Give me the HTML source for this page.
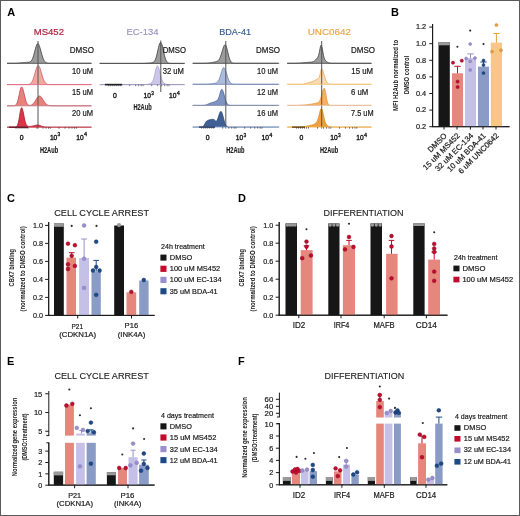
<!DOCTYPE html>
<html><head><meta charset="utf-8"><style>
html,body{margin:0;padding:0;background:#fff;overflow:hidden;width:520px;height:516px;}
svg{display:block;}
text{font-family:"Liberation Sans",sans-serif;}
svg{will-change:transform;}
</style></head><body>
<svg width="520" height="516" viewBox="0 0 520 516">
<rect width="520" height="516" fill="#fff"/>
<g class="g">
<rect x="0.5" y="0.5" width="519" height="515" fill="none" stroke="#5a5a5a" stroke-width="1"/>
<text x="7.20" y="15.90" font-size="11" fill="#000" font-weight="bold" textLength="7.94" lengthAdjust="spacingAndGlyphs" >A</text>
<text x="390.90" y="16.30" font-size="11" fill="#000" font-weight="bold" textLength="7.94" lengthAdjust="spacingAndGlyphs" >B</text>
<text x="7.00" y="201.80" font-size="11" fill="#000" font-weight="bold" textLength="7.94" lengthAdjust="spacingAndGlyphs" >C</text>
<text x="238.00" y="202.00" font-size="11" fill="#000" font-weight="bold" textLength="7.94" lengthAdjust="spacingAndGlyphs" >D</text>
<text x="7.00" y="365.40" font-size="11" fill="#000" font-weight="bold" textLength="7.34" lengthAdjust="spacingAndGlyphs" >E</text>
<text x="238.10" y="365.20" font-size="11" fill="#000" font-weight="bold" textLength="6.72" lengthAdjust="spacingAndGlyphs" >F</text>
<text x="33.70" y="35.20" font-size="9.6" fill="#b3223f" stroke="#b3223f" stroke-width="0.2" textLength="30.29" lengthAdjust="spacingAndGlyphs" >MS452</text>
<text x="126.40" y="35.20" font-size="9.6" fill="#9d97c4" stroke="#9d97c4" stroke-width="0.2" textLength="32.01" lengthAdjust="spacingAndGlyphs" >EC-134</text>
<text x="219.20" y="35.20" font-size="9.6" fill="#3a5f96" stroke="#3a5f96" stroke-width="0.2" textLength="31.81" lengthAdjust="spacingAndGlyphs" >BDA-41</text>
<text x="307.70" y="35.20" font-size="9.6" fill="#eba84c" stroke="#eba84c" stroke-width="0.2" textLength="43.31" lengthAdjust="spacingAndGlyphs" >UNC0642</text>
<path d="M7.0,63.30 L7.5,63.30 L8.0,63.30 L8.5,63.30 L9.0,63.30 L9.5,63.30 L10.0,63.30 L10.5,63.30 L11.0,63.29 L11.5,63.29 L12.0,63.29 L12.5,63.29 L13.0,63.28 L13.5,63.28 L14.0,63.27 L14.5,63.26 L15.0,63.25 L15.5,63.24 L16.0,63.22 L16.5,63.20 L17.0,63.18 L17.5,63.15 L18.0,63.12 L18.5,63.08 L19.0,63.05 L19.5,63.00 L20.0,62.96 L20.5,62.91 L21.1,62.86 L21.6,62.80 L22.1,62.75 L22.6,62.69 L23.1,62.64 L23.6,62.59 L24.1,62.54 L24.6,62.50 L25.1,62.46 L25.6,62.43 L26.1,62.41 L26.6,62.39 L27.1,62.37 L27.6,62.35 L28.1,62.32 L28.6,62.27 L29.1,62.19 L29.6,62.05 L30.1,61.84 L30.6,61.52 L31.1,61.05 L31.6,60.41 L32.1,59.56 L32.6,58.48 L33.1,57.15 L33.6,55.59 L34.1,53.82 L34.6,51.93 L35.1,49.98 L35.6,48.11 L36.1,46.42 L36.6,45.05 L37.1,44.10 L37.6,43.64 L38.1,43.72 L38.6,44.26 L39.1,45.24 L39.6,46.58 L40.1,48.19 L40.6,49.98 L41.1,51.85 L41.6,53.69 L42.1,55.43 L42.6,57.01 L43.1,58.40 L43.6,59.57 L44.1,60.53 L44.6,61.29 L45.1,61.88 L45.6,62.32 L46.1,62.64 L46.6,62.87 L47.1,63.02 L47.6,63.13 L48.1,63.19 L48.6,63.24 L49.1,63.26 L49.7,63.28 L50.2,63.29 L50.7,63.29 L51.2,63.30 L51.7,63.30 L52.2,63.30 L52.7,63.30 L53.2,63.30 L53.7,63.30 L54.2,63.30 L54.7,63.30 L55.2,63.30 L55.7,63.30 L56.2,63.30 L56.7,63.30 L57.2,63.30 L57.7,63.30 L58.2,63.30 L58.7,63.30 L59.2,63.30 L59.7,63.30 L60.2,63.30 L60.7,63.30 L61.2,63.30 L61.7,63.30 L62.2,63.30 L62.7,63.30 L63.2,63.30 L63.7,63.30 L64.2,63.30 L64.7,63.30 L65.2,63.30 L65.7,63.30 L66.2,63.30 L66.7,63.30 L67.2,63.30 L67.7,63.30 L68.2,63.30 L68.7,63.30 L69.2,63.30 L69.7,63.30 L70.2,63.30 L70.7,63.30 L71.2,63.30 L71.7,63.30 L72.2,63.30 L72.7,63.30 L73.2,63.30 L73.7,63.30 L74.2,63.30 L74.7,63.30 L75.2,63.30 L75.7,63.30 L76.2,63.30 L76.7,63.30 L77.2,63.30 L77.8,63.30 L78.3,63.30 L78.8,63.30 L79.3,63.30 L79.8,63.30 L80.3,63.30 L80.8,63.30 L81.3,63.30 L81.8,63.30 L82.3,63.30 L82.8,63.30 L83.3,63.30 L83.8,63.30 L84.3,63.30 L84.8,63.30 L85.3,63.30 L85.8,63.30 L86.3,63.30 L86.8,63.30 L87.3,63.30 L87.8,63.30 L88.3,63.30 L88.8,63.30 L89.3,63.30 L89.8,63.30 L90.3,63.30 L90.8,63.30 L91.3,63.30 L91.30,63.30 L7.00,63.30 Z" fill="#9c9c9c" stroke="none"/>
<path d="M7.0,63.30 L7.5,63.30 L8.0,63.30 L8.5,63.30 L9.0,63.30 L9.5,63.30 L10.0,63.30 L10.5,63.30 L11.0,63.29 L11.5,63.29 L12.0,63.29 L12.5,63.29 L13.0,63.28 L13.5,63.28 L14.0,63.27 L14.5,63.26 L15.0,63.25 L15.5,63.24 L16.0,63.22 L16.5,63.20 L17.0,63.18 L17.5,63.15 L18.0,63.12 L18.5,63.08 L19.0,63.05 L19.5,63.00 L20.0,62.96 L20.5,62.91 L21.1,62.86 L21.6,62.80 L22.1,62.75 L22.6,62.69 L23.1,62.64 L23.6,62.59 L24.1,62.54 L24.6,62.50 L25.1,62.46 L25.6,62.43 L26.1,62.41 L26.6,62.39 L27.1,62.37 L27.6,62.35 L28.1,62.32 L28.6,62.27 L29.1,62.19 L29.6,62.05 L30.1,61.84 L30.6,61.52 L31.1,61.05 L31.6,60.41 L32.1,59.56 L32.6,58.48 L33.1,57.15 L33.6,55.59 L34.1,53.82 L34.6,51.93 L35.1,49.98 L35.6,48.11 L36.1,46.42 L36.6,45.05 L37.1,44.10 L37.6,43.64 L38.1,43.72 L38.6,44.26 L39.1,45.24 L39.6,46.58 L40.1,48.19 L40.6,49.98 L41.1,51.85 L41.6,53.69 L42.1,55.43 L42.6,57.01 L43.1,58.40 L43.6,59.57 L44.1,60.53 L44.6,61.29 L45.1,61.88 L45.6,62.32 L46.1,62.64 L46.6,62.87 L47.1,63.02 L47.6,63.13 L48.1,63.19 L48.6,63.24 L49.1,63.26 L49.7,63.28 L50.2,63.29 L50.7,63.29 L51.2,63.30 L51.7,63.30 L52.2,63.30 L52.7,63.30 L53.2,63.30 L53.7,63.30 L54.2,63.30 L54.7,63.30 L55.2,63.30 L55.7,63.30 L56.2,63.30 L56.7,63.30 L57.2,63.30 L57.7,63.30 L58.2,63.30 L58.7,63.30 L59.2,63.30 L59.7,63.30 L60.2,63.30 L60.7,63.30 L61.2,63.30 L61.7,63.30 L62.2,63.30 L62.7,63.30 L63.2,63.30 L63.7,63.30 L64.2,63.30 L64.7,63.30 L65.2,63.30 L65.7,63.30 L66.2,63.30 L66.7,63.30 L67.2,63.30 L67.7,63.30 L68.2,63.30 L68.7,63.30 L69.2,63.30 L69.7,63.30 L70.2,63.30 L70.7,63.30 L71.2,63.30 L71.7,63.30 L72.2,63.30 L72.7,63.30 L73.2,63.30 L73.7,63.30 L74.2,63.30 L74.7,63.30 L75.2,63.30 L75.7,63.30 L76.2,63.30 L76.7,63.30 L77.2,63.30 L77.8,63.30 L78.3,63.30 L78.8,63.30 L79.3,63.30 L79.8,63.30 L80.3,63.30 L80.8,63.30 L81.3,63.30 L81.8,63.30 L82.3,63.30 L82.8,63.30 L83.3,63.30 L83.8,63.30 L84.3,63.30 L84.8,63.30 L85.3,63.30 L85.8,63.30 L86.3,63.30 L86.8,63.30 L87.3,63.30 L87.8,63.30 L88.3,63.30 L88.8,63.30 L89.3,63.30 L89.8,63.30 L90.3,63.30 L90.8,63.30 L91.3,63.30" fill="none" stroke="#3a3a3a" stroke-width="0.8" stroke-linejoin="round"/>
<path d="M7.0,84.60 L7.5,84.60 L8.0,84.60 L8.5,84.60 L9.0,84.60 L9.5,84.60 L10.0,84.60 L10.5,84.60 L11.0,84.60 L11.5,84.60 L12.0,84.60 L12.5,84.60 L13.0,84.60 L13.5,84.60 L14.0,84.60 L14.5,84.60 L15.0,84.60 L15.5,84.60 L16.0,84.60 L16.5,84.60 L17.0,84.60 L17.5,84.60 L18.0,84.60 L18.5,84.60 L19.0,84.60 L19.5,84.60 L20.0,84.60 L20.5,84.60 L21.1,84.60 L21.6,84.60 L22.1,84.60 L22.6,84.60 L23.1,84.60 L23.6,84.60 L24.1,84.60 L24.6,84.60 L25.1,84.60 L25.6,84.59 L26.1,84.59 L26.6,84.57 L27.1,84.56 L27.6,84.52 L28.1,84.47 L28.6,84.39 L29.1,84.27 L29.6,84.10 L30.1,83.84 L30.6,83.48 L31.1,83.00 L31.6,82.35 L32.1,81.53 L32.6,80.51 L33.1,79.28 L33.6,77.85 L34.1,76.25 L34.6,74.52 L35.1,72.72 L35.6,70.94 L36.1,69.27 L36.6,67.82 L37.1,66.68 L37.6,65.92 L38.1,65.61 L38.6,65.75 L39.1,66.32 L39.6,67.27 L40.1,68.55 L40.6,70.08 L41.1,71.76 L41.6,73.51 L42.1,75.23 L42.6,76.87 L43.1,78.37 L43.6,79.69 L44.1,80.82 L44.6,81.76 L45.1,82.51 L45.6,83.10 L46.1,83.55 L46.6,83.88 L47.1,84.12 L47.6,84.28 L48.1,84.40 L48.6,84.47 L49.1,84.52 L49.7,84.55 L50.2,84.57 L50.7,84.58 L51.2,84.59 L51.7,84.60 L52.2,84.60 L52.7,84.60 L53.2,84.60 L53.7,84.60 L54.2,84.60 L54.7,84.60 L55.2,84.60 L55.7,84.60 L56.2,84.60 L56.7,84.60 L57.2,84.60 L57.7,84.60 L58.2,84.60 L58.7,84.60 L59.2,84.60 L59.7,84.60 L60.2,84.60 L60.7,84.60 L61.2,84.60 L61.7,84.60 L62.2,84.60 L62.7,84.60 L63.2,84.60 L63.7,84.60 L64.2,84.60 L64.7,84.60 L65.2,84.60 L65.7,84.60 L66.2,84.60 L66.7,84.60 L67.2,84.60 L67.7,84.60 L68.2,84.60 L68.7,84.60 L69.2,84.60 L69.7,84.60 L70.2,84.60 L70.7,84.60 L71.2,84.60 L71.7,84.60 L72.2,84.60 L72.7,84.60 L73.2,84.60 L73.7,84.60 L74.2,84.60 L74.7,84.60 L75.2,84.60 L75.7,84.60 L76.2,84.60 L76.7,84.60 L77.2,84.60 L77.8,84.60 L78.3,84.60 L78.8,84.60 L79.3,84.60 L79.8,84.60 L80.3,84.60 L80.8,84.60 L81.3,84.60 L81.8,84.60 L82.3,84.60 L82.8,84.60 L83.3,84.60 L83.8,84.60 L84.3,84.60 L84.8,84.60 L85.3,84.60 L85.8,84.60 L86.3,84.60 L86.8,84.60 L87.3,84.60 L87.8,84.60 L88.3,84.60 L88.8,84.60 L89.3,84.60 L89.8,84.60 L90.3,84.60 L90.8,84.60 L91.3,84.60 L91.30,84.60 L7.00,84.60 Z" fill="#f2a79e" stroke="none"/>
<path d="M7.0,84.60 L7.5,84.60 L8.0,84.60 L8.5,84.60 L9.0,84.60 L9.5,84.60 L10.0,84.60 L10.5,84.60 L11.0,84.60 L11.5,84.60 L12.0,84.60 L12.5,84.60 L13.0,84.60 L13.5,84.60 L14.0,84.60 L14.5,84.60 L15.0,84.60 L15.5,84.60 L16.0,84.60 L16.5,84.60 L17.0,84.60 L17.5,84.60 L18.0,84.60 L18.5,84.60 L19.0,84.60 L19.5,84.60 L20.0,84.60 L20.5,84.60 L21.1,84.60 L21.6,84.60 L22.1,84.60 L22.6,84.60 L23.1,84.60 L23.6,84.60 L24.1,84.60 L24.6,84.60 L25.1,84.60 L25.6,84.59 L26.1,84.59 L26.6,84.57 L27.1,84.56 L27.6,84.52 L28.1,84.47 L28.6,84.39 L29.1,84.27 L29.6,84.10 L30.1,83.84 L30.6,83.48 L31.1,83.00 L31.6,82.35 L32.1,81.53 L32.6,80.51 L33.1,79.28 L33.6,77.85 L34.1,76.25 L34.6,74.52 L35.1,72.72 L35.6,70.94 L36.1,69.27 L36.6,67.82 L37.1,66.68 L37.6,65.92 L38.1,65.61 L38.6,65.75 L39.1,66.32 L39.6,67.27 L40.1,68.55 L40.6,70.08 L41.1,71.76 L41.6,73.51 L42.1,75.23 L42.6,76.87 L43.1,78.37 L43.6,79.69 L44.1,80.82 L44.6,81.76 L45.1,82.51 L45.6,83.10 L46.1,83.55 L46.6,83.88 L47.1,84.12 L47.6,84.28 L48.1,84.40 L48.6,84.47 L49.1,84.52 L49.7,84.55 L50.2,84.57 L50.7,84.58 L51.2,84.59 L51.7,84.60 L52.2,84.60 L52.7,84.60 L53.2,84.60 L53.7,84.60 L54.2,84.60 L54.7,84.60 L55.2,84.60 L55.7,84.60 L56.2,84.60 L56.7,84.60 L57.2,84.60 L57.7,84.60 L58.2,84.60 L58.7,84.60 L59.2,84.60 L59.7,84.60 L60.2,84.60 L60.7,84.60 L61.2,84.60 L61.7,84.60 L62.2,84.60 L62.7,84.60 L63.2,84.60 L63.7,84.60 L64.2,84.60 L64.7,84.60 L65.2,84.60 L65.7,84.60 L66.2,84.60 L66.7,84.60 L67.2,84.60 L67.7,84.60 L68.2,84.60 L68.7,84.60 L69.2,84.60 L69.7,84.60 L70.2,84.60 L70.7,84.60 L71.2,84.60 L71.7,84.60 L72.2,84.60 L72.7,84.60 L73.2,84.60 L73.7,84.60 L74.2,84.60 L74.7,84.60 L75.2,84.60 L75.7,84.60 L76.2,84.60 L76.7,84.60 L77.2,84.60 L77.8,84.60 L78.3,84.60 L78.8,84.60 L79.3,84.60 L79.8,84.60 L80.3,84.60 L80.8,84.60 L81.3,84.60 L81.8,84.60 L82.3,84.60 L82.8,84.60 L83.3,84.60 L83.8,84.60 L84.3,84.60 L84.8,84.60 L85.3,84.60 L85.8,84.60 L86.3,84.60 L86.8,84.60 L87.3,84.60 L87.8,84.60 L88.3,84.60 L88.8,84.60 L89.3,84.60 L89.8,84.60 L90.3,84.60 L90.8,84.60 L91.3,84.60" fill="none" stroke="#d35a68" stroke-width="0.8" stroke-linejoin="round"/>
<path d="M7.0,105.80 L7.5,105.80 L8.0,105.80 L8.5,105.80 L9.0,105.80 L9.5,105.80 L10.0,105.80 L10.5,105.80 L11.0,105.80 L11.5,105.80 L12.0,105.80 L12.5,105.79 L13.0,105.78 L13.5,105.76 L14.0,105.72 L14.5,105.63 L15.0,105.48 L15.5,105.22 L16.0,104.80 L16.5,104.14 L17.0,103.18 L17.5,101.85 L18.0,100.13 L18.5,98.04 L19.0,95.67 L19.5,93.19 L20.0,90.83 L20.5,88.87 L21.1,87.53 L21.6,87.00 L22.1,87.28 L22.6,88.23 L23.1,89.73 L23.6,91.65 L24.1,93.79 L24.6,95.98 L25.1,98.06 L25.6,99.92 L26.1,101.50 L26.6,102.76 L27.1,103.72 L27.6,104.42 L28.1,104.89 L28.6,105.19 L29.1,105.35 L29.6,105.41 L30.1,105.39 L30.6,105.30 L31.1,105.14 L31.6,104.91 L32.1,104.62 L32.6,104.24 L33.1,103.79 L33.6,103.25 L34.1,102.62 L34.6,101.92 L35.1,101.16 L35.6,100.35 L36.1,99.52 L36.6,98.71 L37.1,97.94 L37.6,97.26 L38.1,96.70 L38.6,96.29 L39.1,96.06 L39.6,96.01 L40.1,96.14 L40.6,96.46 L41.1,96.95 L41.6,97.56 L42.1,98.29 L42.6,99.08 L43.1,99.90 L43.6,100.73 L44.1,101.52 L44.6,102.26 L45.1,102.92 L45.6,103.51 L46.1,104.01 L46.6,104.43 L47.1,104.77 L47.6,105.04 L48.1,105.25 L48.6,105.41 L49.1,105.53 L49.7,105.62 L50.2,105.68 L50.7,105.72 L51.2,105.75 L51.7,105.77 L52.2,105.78 L52.7,105.79 L53.2,105.79 L53.7,105.80 L54.2,105.80 L54.7,105.80 L55.2,105.80 L55.7,105.80 L56.2,105.80 L56.7,105.80 L57.2,105.80 L57.7,105.80 L58.2,105.80 L58.7,105.80 L59.2,105.80 L59.7,105.80 L60.2,105.80 L60.7,105.80 L61.2,105.80 L61.7,105.80 L62.2,105.80 L62.7,105.80 L63.2,105.80 L63.7,105.80 L64.2,105.80 L64.7,105.80 L65.2,105.80 L65.7,105.80 L66.2,105.80 L66.7,105.80 L67.2,105.80 L67.7,105.80 L68.2,105.80 L68.7,105.80 L69.2,105.80 L69.7,105.80 L70.2,105.80 L70.7,105.80 L71.2,105.80 L71.7,105.80 L72.2,105.80 L72.7,105.80 L73.2,105.80 L73.7,105.80 L74.2,105.80 L74.7,105.80 L75.2,105.80 L75.7,105.80 L76.2,105.80 L76.7,105.80 L77.2,105.80 L77.8,105.80 L78.3,105.80 L78.8,105.80 L79.3,105.80 L79.8,105.80 L80.3,105.80 L80.8,105.80 L81.3,105.80 L81.8,105.80 L82.3,105.80 L82.8,105.80 L83.3,105.80 L83.8,105.80 L84.3,105.80 L84.8,105.80 L85.3,105.80 L85.8,105.80 L86.3,105.80 L86.8,105.80 L87.3,105.80 L87.8,105.80 L88.3,105.80 L88.8,105.80 L89.3,105.80 L89.8,105.80 L90.3,105.80 L90.8,105.80 L91.3,105.80 L91.30,105.80 L7.00,105.80 Z" fill="#e8827a" stroke="none"/>
<path d="M7.0,105.80 L7.5,105.80 L8.0,105.80 L8.5,105.80 L9.0,105.80 L9.5,105.80 L10.0,105.80 L10.5,105.80 L11.0,105.80 L11.5,105.80 L12.0,105.80 L12.5,105.79 L13.0,105.78 L13.5,105.76 L14.0,105.72 L14.5,105.63 L15.0,105.48 L15.5,105.22 L16.0,104.80 L16.5,104.14 L17.0,103.18 L17.5,101.85 L18.0,100.13 L18.5,98.04 L19.0,95.67 L19.5,93.19 L20.0,90.83 L20.5,88.87 L21.1,87.53 L21.6,87.00 L22.1,87.28 L22.6,88.23 L23.1,89.73 L23.6,91.65 L24.1,93.79 L24.6,95.98 L25.1,98.06 L25.6,99.92 L26.1,101.50 L26.6,102.76 L27.1,103.72 L27.6,104.42 L28.1,104.89 L28.6,105.19 L29.1,105.35 L29.6,105.41 L30.1,105.39 L30.6,105.30 L31.1,105.14 L31.6,104.91 L32.1,104.62 L32.6,104.24 L33.1,103.79 L33.6,103.25 L34.1,102.62 L34.6,101.92 L35.1,101.16 L35.6,100.35 L36.1,99.52 L36.6,98.71 L37.1,97.94 L37.6,97.26 L38.1,96.70 L38.6,96.29 L39.1,96.06 L39.6,96.01 L40.1,96.14 L40.6,96.46 L41.1,96.95 L41.6,97.56 L42.1,98.29 L42.6,99.08 L43.1,99.90 L43.6,100.73 L44.1,101.52 L44.6,102.26 L45.1,102.92 L45.6,103.51 L46.1,104.01 L46.6,104.43 L47.1,104.77 L47.6,105.04 L48.1,105.25 L48.6,105.41 L49.1,105.53 L49.7,105.62 L50.2,105.68 L50.7,105.72 L51.2,105.75 L51.7,105.77 L52.2,105.78 L52.7,105.79 L53.2,105.79 L53.7,105.80 L54.2,105.80 L54.7,105.80 L55.2,105.80 L55.7,105.80 L56.2,105.80 L56.7,105.80 L57.2,105.80 L57.7,105.80 L58.2,105.80 L58.7,105.80 L59.2,105.80 L59.7,105.80 L60.2,105.80 L60.7,105.80 L61.2,105.80 L61.7,105.80 L62.2,105.80 L62.7,105.80 L63.2,105.80 L63.7,105.80 L64.2,105.80 L64.7,105.80 L65.2,105.80 L65.7,105.80 L66.2,105.80 L66.7,105.80 L67.2,105.80 L67.7,105.80 L68.2,105.80 L68.7,105.80 L69.2,105.80 L69.7,105.80 L70.2,105.80 L70.7,105.80 L71.2,105.80 L71.7,105.80 L72.2,105.80 L72.7,105.80 L73.2,105.80 L73.7,105.80 L74.2,105.80 L74.7,105.80 L75.2,105.80 L75.7,105.80 L76.2,105.80 L76.7,105.80 L77.2,105.80 L77.8,105.80 L78.3,105.80 L78.8,105.80 L79.3,105.80 L79.8,105.80 L80.3,105.80 L80.8,105.80 L81.3,105.80 L81.8,105.80 L82.3,105.80 L82.8,105.80 L83.3,105.80 L83.8,105.80 L84.3,105.80 L84.8,105.80 L85.3,105.80 L85.8,105.80 L86.3,105.80 L86.8,105.80 L87.3,105.80 L87.8,105.80 L88.3,105.80 L88.8,105.80 L89.3,105.80 L89.8,105.80 L90.3,105.80 L90.8,105.80 L91.3,105.80" fill="none" stroke="#c2404f" stroke-width="0.8" stroke-linejoin="round"/>
<path d="M7.0,127.20 L7.5,127.20 L8.0,127.20 L8.5,127.20 L9.0,127.20 L9.5,127.20 L10.0,127.20 L10.5,127.20 L11.0,127.20 L11.5,127.20 L12.0,127.20 L12.5,127.20 L13.0,127.20 L13.5,127.20 L14.0,127.19 L14.5,127.18 L15.0,127.15 L15.5,127.08 L16.0,126.93 L16.5,126.64 L17.0,126.11 L17.5,125.22 L18.0,123.83 L18.5,121.86 L19.0,119.31 L19.5,116.33 L20.0,113.23 L20.5,110.46 L21.1,108.48 L21.6,107.68 L22.1,108.07 L22.6,109.39 L23.1,111.46 L23.6,113.97 L24.1,116.61 L24.6,119.12 L25.1,121.30 L25.6,123.04 L26.1,124.34 L26.6,125.23 L27.1,125.80 L27.6,126.14 L28.1,126.31 L28.6,126.39 L29.1,126.42 L29.6,126.41 L30.1,126.39 L30.6,126.36 L31.1,126.32 L31.6,126.26 L32.1,126.18 L32.6,126.08 L33.1,125.97 L33.6,125.83 L34.1,125.69 L34.6,125.53 L35.1,125.38 L35.6,125.25 L36.1,125.13 L36.6,125.05 L37.1,125.00 L37.6,124.99 L38.1,125.03 L38.6,125.10 L39.1,125.22 L39.6,125.37 L40.1,125.54 L40.6,125.72 L41.1,125.91 L41.6,126.10 L42.1,126.28 L42.6,126.45 L43.1,126.60 L43.6,126.73 L44.1,126.83 L44.6,126.92 L45.1,127.00 L45.6,127.05 L46.1,127.10 L46.6,127.13 L47.1,127.15 L47.6,127.17 L48.1,127.18 L48.6,127.19 L49.1,127.19 L49.7,127.19 L50.2,127.20 L50.7,127.20 L51.2,127.20 L51.7,127.20 L52.2,127.20 L52.7,127.20 L53.2,127.20 L53.7,127.20 L54.2,127.20 L54.7,127.20 L55.2,127.20 L55.7,127.20 L56.2,127.20 L56.7,127.20 L57.2,127.20 L57.7,127.20 L58.2,127.20 L58.7,127.20 L59.2,127.20 L59.7,127.20 L60.2,127.20 L60.7,127.20 L61.2,127.20 L61.7,127.20 L62.2,127.20 L62.7,127.20 L63.2,127.20 L63.7,127.20 L64.2,127.20 L64.7,127.20 L65.2,127.20 L65.7,127.20 L66.2,127.20 L66.7,127.20 L67.2,127.20 L67.7,127.20 L68.2,127.20 L68.7,127.20 L69.2,127.20 L69.7,127.20 L70.2,127.20 L70.7,127.20 L71.2,127.20 L71.7,127.20 L72.2,127.20 L72.7,127.20 L73.2,127.20 L73.7,127.20 L74.2,127.20 L74.7,127.20 L75.2,127.20 L75.7,127.20 L76.2,127.20 L76.7,127.20 L77.2,127.20 L77.8,127.20 L78.3,127.20 L78.8,127.20 L79.3,127.20 L79.8,127.20 L80.3,127.20 L80.8,127.20 L81.3,127.20 L81.8,127.20 L82.3,127.20 L82.8,127.20 L83.3,127.20 L83.8,127.20 L84.3,127.20 L84.8,127.20 L85.3,127.20 L85.8,127.20 L86.3,127.20 L86.8,127.20 L87.3,127.20 L87.8,127.20 L88.3,127.20 L88.8,127.20 L89.3,127.20 L89.8,127.20 L90.3,127.20 L90.8,127.20 L91.3,127.20 L91.30,127.20 L7.00,127.20 Z" fill="#d93747" stroke="none"/>
<path d="M7.0,127.20 L7.5,127.20 L8.0,127.20 L8.5,127.20 L9.0,127.20 L9.5,127.20 L10.0,127.20 L10.5,127.20 L11.0,127.20 L11.5,127.20 L12.0,127.20 L12.5,127.20 L13.0,127.20 L13.5,127.20 L14.0,127.19 L14.5,127.18 L15.0,127.15 L15.5,127.08 L16.0,126.93 L16.5,126.64 L17.0,126.11 L17.5,125.22 L18.0,123.83 L18.5,121.86 L19.0,119.31 L19.5,116.33 L20.0,113.23 L20.5,110.46 L21.1,108.48 L21.6,107.68 L22.1,108.07 L22.6,109.39 L23.1,111.46 L23.6,113.97 L24.1,116.61 L24.6,119.12 L25.1,121.30 L25.6,123.04 L26.1,124.34 L26.6,125.23 L27.1,125.80 L27.6,126.14 L28.1,126.31 L28.6,126.39 L29.1,126.42 L29.6,126.41 L30.1,126.39 L30.6,126.36 L31.1,126.32 L31.6,126.26 L32.1,126.18 L32.6,126.08 L33.1,125.97 L33.6,125.83 L34.1,125.69 L34.6,125.53 L35.1,125.38 L35.6,125.25 L36.1,125.13 L36.6,125.05 L37.1,125.00 L37.6,124.99 L38.1,125.03 L38.6,125.10 L39.1,125.22 L39.6,125.37 L40.1,125.54 L40.6,125.72 L41.1,125.91 L41.6,126.10 L42.1,126.28 L42.6,126.45 L43.1,126.60 L43.6,126.73 L44.1,126.83 L44.6,126.92 L45.1,127.00 L45.6,127.05 L46.1,127.10 L46.6,127.13 L47.1,127.15 L47.6,127.17 L48.1,127.18 L48.6,127.19 L49.1,127.19 L49.7,127.19 L50.2,127.20 L50.7,127.20 L51.2,127.20 L51.7,127.20 L52.2,127.20 L52.7,127.20 L53.2,127.20 L53.7,127.20 L54.2,127.20 L54.7,127.20 L55.2,127.20 L55.7,127.20 L56.2,127.20 L56.7,127.20 L57.2,127.20 L57.7,127.20 L58.2,127.20 L58.7,127.20 L59.2,127.20 L59.7,127.20 L60.2,127.20 L60.7,127.20 L61.2,127.20 L61.7,127.20 L62.2,127.20 L62.7,127.20 L63.2,127.20 L63.7,127.20 L64.2,127.20 L64.7,127.20 L65.2,127.20 L65.7,127.20 L66.2,127.20 L66.7,127.20 L67.2,127.20 L67.7,127.20 L68.2,127.20 L68.7,127.20 L69.2,127.20 L69.7,127.20 L70.2,127.20 L70.7,127.20 L71.2,127.20 L71.7,127.20 L72.2,127.20 L72.7,127.20 L73.2,127.20 L73.7,127.20 L74.2,127.20 L74.7,127.20 L75.2,127.20 L75.7,127.20 L76.2,127.20 L76.7,127.20 L77.2,127.20 L77.8,127.20 L78.3,127.20 L78.8,127.20 L79.3,127.20 L79.8,127.20 L80.3,127.20 L80.8,127.20 L81.3,127.20 L81.8,127.20 L82.3,127.20 L82.8,127.20 L83.3,127.20 L83.8,127.20 L84.3,127.20 L84.8,127.20 L85.3,127.20 L85.8,127.20 L86.3,127.20 L86.8,127.20 L87.3,127.20 L87.8,127.20 L88.3,127.20 L88.8,127.20 L89.3,127.20 L89.8,127.20 L90.3,127.20 L90.8,127.20 L91.3,127.20" fill="none" stroke="#a81a2c" stroke-width="0.8" stroke-linejoin="round"/>
<line x1="38.00" y1="41.00" x2="38.00" y2="128.50" stroke="#555" stroke-width="1" />
<text x="69.80" y="53.10" font-size="8.4" fill="#1a1a1a" stroke="#1a1a1a" stroke-width="0.2" textLength="24.20" lengthAdjust="spacingAndGlyphs" >DMSO</text>
<text x="72.00" y="73.60" font-size="8.4" fill="#1a1a1a" stroke="#1a1a1a" stroke-width="0.2" textLength="21.00" lengthAdjust="spacingAndGlyphs" >10 uM</text>
<text x="72.00" y="94.90" font-size="8.4" fill="#1a1a1a" stroke="#1a1a1a" stroke-width="0.2" textLength="21.00" lengthAdjust="spacingAndGlyphs" >15 uM</text>
<text x="72.00" y="116.20" font-size="8.4" fill="#1a1a1a" stroke="#1a1a1a" stroke-width="0.2" textLength="21.00" lengthAdjust="spacingAndGlyphs" >20 uM</text>
<path d="M99.7,63.40 L100.2,63.40 L100.7,63.40 L101.2,63.40 L101.7,63.40 L102.2,63.40 L102.7,63.40 L103.2,63.40 L103.7,63.40 L104.2,63.40 L104.7,63.40 L105.2,63.40 L105.7,63.40 L106.2,63.40 L106.7,63.40 L107.2,63.40 L107.7,63.40 L108.2,63.40 L108.7,63.40 L109.2,63.40 L109.7,63.40 L110.2,63.40 L110.8,63.40 L111.3,63.40 L111.8,63.40 L112.3,63.40 L112.8,63.40 L113.3,63.40 L113.8,63.40 L114.3,63.40 L114.8,63.40 L115.3,63.40 L115.8,63.40 L116.3,63.40 L116.8,63.40 L117.3,63.40 L117.8,63.40 L118.3,63.40 L118.8,63.40 L119.3,63.40 L119.8,63.40 L120.3,63.40 L120.8,63.40 L121.3,63.40 L121.8,63.40 L122.3,63.40 L122.8,63.40 L123.3,63.40 L123.8,63.40 L124.3,63.40 L124.8,63.40 L125.3,63.40 L125.8,63.40 L126.3,63.40 L126.8,63.40 L127.3,63.40 L127.8,63.40 L128.3,63.40 L128.8,63.40 L129.3,63.40 L129.8,63.40 L130.3,63.40 L130.8,63.40 L131.3,63.40 L131.9,63.40 L132.4,63.40 L132.9,63.40 L133.4,63.40 L133.9,63.40 L134.4,63.40 L134.9,63.40 L135.4,63.40 L135.9,63.40 L136.4,63.40 L136.9,63.40 L137.4,63.40 L137.9,63.40 L138.4,63.40 L138.9,63.40 L139.4,63.40 L139.9,63.39 L140.4,63.39 L140.9,63.39 L141.4,63.39 L141.9,63.38 L142.4,63.37 L142.9,63.36 L143.4,63.35 L143.9,63.34 L144.4,63.32 L144.9,63.30 L145.4,63.27 L145.9,63.24 L146.4,63.21 L146.9,63.18 L147.4,63.14 L147.9,63.10 L148.4,63.06 L148.9,63.02 L149.4,62.99 L149.9,62.95 L150.4,62.91 L150.9,62.86 L151.4,62.81 L151.9,62.72 L152.4,62.60 L153.0,62.41 L153.5,62.13 L154.0,61.70 L154.5,61.10 L155.0,60.27 L155.5,59.17 L156.0,57.78 L156.5,56.10 L157.0,54.15 L157.5,52.00 L158.0,49.77 L158.5,47.59 L159.0,45.61 L159.5,44.02 L160.0,42.93 L160.5,42.46 L161.0,42.66 L161.5,43.50 L162.0,44.91 L162.5,46.77 L163.0,48.91 L163.5,51.17 L164.0,53.41 L164.5,55.49 L165.0,57.34 L165.5,58.91 L166.0,60.17 L166.5,61.15 L167.0,61.89 L167.5,62.41 L168.0,62.78 L168.5,63.02 L169.0,63.17 L169.5,63.27 L170.0,63.33 L170.5,63.36 L171.0,63.38 L171.5,63.39 L172.0,63.40 L172.5,63.40 L173.0,63.40 L173.5,63.40 L174.1,63.40 L174.6,63.40 L175.1,63.40 L175.6,63.40 L176.1,63.40 L176.6,63.40 L177.1,63.40 L177.6,63.40 L178.1,63.40 L178.6,63.40 L179.1,63.40 L179.6,63.40 L180.1,63.40 L180.6,63.40 L181.1,63.40 L181.6,63.40 L182.1,63.40 L182.6,63.40 L183.1,63.40 L183.6,63.40 L184.1,63.40 L184.6,63.40 L184.60,63.40 L99.70,63.40 Z" fill="#9c9c9c" stroke="none"/>
<path d="M99.7,63.40 L100.2,63.40 L100.7,63.40 L101.2,63.40 L101.7,63.40 L102.2,63.40 L102.7,63.40 L103.2,63.40 L103.7,63.40 L104.2,63.40 L104.7,63.40 L105.2,63.40 L105.7,63.40 L106.2,63.40 L106.7,63.40 L107.2,63.40 L107.7,63.40 L108.2,63.40 L108.7,63.40 L109.2,63.40 L109.7,63.40 L110.2,63.40 L110.8,63.40 L111.3,63.40 L111.8,63.40 L112.3,63.40 L112.8,63.40 L113.3,63.40 L113.8,63.40 L114.3,63.40 L114.8,63.40 L115.3,63.40 L115.8,63.40 L116.3,63.40 L116.8,63.40 L117.3,63.40 L117.8,63.40 L118.3,63.40 L118.8,63.40 L119.3,63.40 L119.8,63.40 L120.3,63.40 L120.8,63.40 L121.3,63.40 L121.8,63.40 L122.3,63.40 L122.8,63.40 L123.3,63.40 L123.8,63.40 L124.3,63.40 L124.8,63.40 L125.3,63.40 L125.8,63.40 L126.3,63.40 L126.8,63.40 L127.3,63.40 L127.8,63.40 L128.3,63.40 L128.8,63.40 L129.3,63.40 L129.8,63.40 L130.3,63.40 L130.8,63.40 L131.3,63.40 L131.9,63.40 L132.4,63.40 L132.9,63.40 L133.4,63.40 L133.9,63.40 L134.4,63.40 L134.9,63.40 L135.4,63.40 L135.9,63.40 L136.4,63.40 L136.9,63.40 L137.4,63.40 L137.9,63.40 L138.4,63.40 L138.9,63.40 L139.4,63.40 L139.9,63.39 L140.4,63.39 L140.9,63.39 L141.4,63.39 L141.9,63.38 L142.4,63.37 L142.9,63.36 L143.4,63.35 L143.9,63.34 L144.4,63.32 L144.9,63.30 L145.4,63.27 L145.9,63.24 L146.4,63.21 L146.9,63.18 L147.4,63.14 L147.9,63.10 L148.4,63.06 L148.9,63.02 L149.4,62.99 L149.9,62.95 L150.4,62.91 L150.9,62.86 L151.4,62.81 L151.9,62.72 L152.4,62.60 L153.0,62.41 L153.5,62.13 L154.0,61.70 L154.5,61.10 L155.0,60.27 L155.5,59.17 L156.0,57.78 L156.5,56.10 L157.0,54.15 L157.5,52.00 L158.0,49.77 L158.5,47.59 L159.0,45.61 L159.5,44.02 L160.0,42.93 L160.5,42.46 L161.0,42.66 L161.5,43.50 L162.0,44.91 L162.5,46.77 L163.0,48.91 L163.5,51.17 L164.0,53.41 L164.5,55.49 L165.0,57.34 L165.5,58.91 L166.0,60.17 L166.5,61.15 L167.0,61.89 L167.5,62.41 L168.0,62.78 L168.5,63.02 L169.0,63.17 L169.5,63.27 L170.0,63.33 L170.5,63.36 L171.0,63.38 L171.5,63.39 L172.0,63.40 L172.5,63.40 L173.0,63.40 L173.5,63.40 L174.1,63.40 L174.6,63.40 L175.1,63.40 L175.6,63.40 L176.1,63.40 L176.6,63.40 L177.1,63.40 L177.6,63.40 L178.1,63.40 L178.6,63.40 L179.1,63.40 L179.6,63.40 L180.1,63.40 L180.6,63.40 L181.1,63.40 L181.6,63.40 L182.1,63.40 L182.6,63.40 L183.1,63.40 L183.6,63.40 L184.1,63.40 L184.6,63.40" fill="none" stroke="#3a3a3a" stroke-width="0.8" stroke-linejoin="round"/>
<path d="M99.7,84.60 L100.2,84.60 L100.7,84.60 L101.2,84.60 L101.7,84.60 L102.2,84.60 L102.7,84.60 L103.2,84.60 L103.7,84.60 L104.2,84.60 L104.7,84.60 L105.2,84.60 L105.7,84.60 L106.2,84.60 L106.7,84.60 L107.2,84.60 L107.7,84.60 L108.2,84.60 L108.7,84.60 L109.2,84.60 L109.7,84.60 L110.2,84.60 L110.8,84.60 L111.3,84.60 L111.8,84.60 L112.3,84.60 L112.8,84.60 L113.3,84.60 L113.8,84.60 L114.3,84.60 L114.8,84.60 L115.3,84.60 L115.8,84.60 L116.3,84.60 L116.8,84.60 L117.3,84.60 L117.8,84.60 L118.3,84.60 L118.8,84.60 L119.3,84.60 L119.8,84.60 L120.3,84.60 L120.8,84.60 L121.3,84.60 L121.8,84.60 L122.3,84.60 L122.8,84.60 L123.3,84.60 L123.8,84.60 L124.3,84.60 L124.8,84.60 L125.3,84.60 L125.8,84.60 L126.3,84.60 L126.8,84.60 L127.3,84.60 L127.8,84.60 L128.3,84.60 L128.8,84.60 L129.3,84.60 L129.8,84.60 L130.3,84.60 L130.8,84.60 L131.3,84.60 L131.9,84.60 L132.4,84.60 L132.9,84.60 L133.4,84.60 L133.9,84.60 L134.4,84.60 L134.9,84.60 L135.4,84.60 L135.9,84.60 L136.4,84.60 L136.9,84.60 L137.4,84.60 L137.9,84.60 L138.4,84.60 L138.9,84.60 L139.4,84.60 L139.9,84.60 L140.4,84.60 L140.9,84.60 L141.4,84.60 L141.9,84.60 L142.4,84.59 L142.9,84.59 L143.4,84.58 L143.9,84.58 L144.4,84.57 L144.9,84.55 L145.4,84.53 L145.9,84.50 L146.4,84.47 L146.9,84.42 L147.4,84.36 L147.9,84.28 L148.4,84.19 L148.9,84.07 L149.4,83.93 L149.9,83.75 L150.4,83.51 L150.9,83.21 L151.4,82.81 L151.9,82.26 L152.4,81.51 L153.0,80.50 L153.5,79.18 L154.0,77.52 L154.5,75.56 L155.0,73.37 L155.5,71.12 L156.0,69.03 L156.5,67.34 L157.0,66.29 L157.5,66.01 L158.0,66.45 L158.5,67.49 L159.0,69.02 L159.5,70.89 L160.0,72.92 L160.5,74.95 L161.0,76.85 L161.5,78.53 L162.0,79.95 L162.5,81.10 L163.0,81.99 L163.5,82.67 L164.0,83.17 L164.5,83.54 L165.0,83.81 L165.5,84.01 L166.0,84.16 L166.5,84.27 L167.0,84.36 L167.5,84.42 L168.0,84.47 L168.5,84.50 L169.0,84.53 L169.5,84.55 L170.0,84.57 L170.5,84.58 L171.0,84.58 L171.5,84.59 L172.0,84.59 L172.5,84.60 L173.0,84.60 L173.5,84.60 L174.1,84.60 L174.6,84.60 L175.1,84.60 L175.6,84.60 L176.1,84.60 L176.6,84.60 L177.1,84.60 L177.6,84.60 L178.1,84.60 L178.6,84.60 L179.1,84.60 L179.6,84.60 L180.1,84.60 L180.6,84.60 L181.1,84.60 L181.6,84.60 L182.1,84.60 L182.6,84.60 L183.1,84.60 L183.6,84.60 L184.1,84.60 L184.6,84.60 L184.60,84.60 L99.70,84.60 Z" fill="#ccc6ea" stroke="none"/>
<path d="M99.7,84.60 L100.2,84.60 L100.7,84.60 L101.2,84.60 L101.7,84.60 L102.2,84.60 L102.7,84.60 L103.2,84.60 L103.7,84.60 L104.2,84.60 L104.7,84.60 L105.2,84.60 L105.7,84.60 L106.2,84.60 L106.7,84.60 L107.2,84.60 L107.7,84.60 L108.2,84.60 L108.7,84.60 L109.2,84.60 L109.7,84.60 L110.2,84.60 L110.8,84.60 L111.3,84.60 L111.8,84.60 L112.3,84.60 L112.8,84.60 L113.3,84.60 L113.8,84.60 L114.3,84.60 L114.8,84.60 L115.3,84.60 L115.8,84.60 L116.3,84.60 L116.8,84.60 L117.3,84.60 L117.8,84.60 L118.3,84.60 L118.8,84.60 L119.3,84.60 L119.8,84.60 L120.3,84.60 L120.8,84.60 L121.3,84.60 L121.8,84.60 L122.3,84.60 L122.8,84.60 L123.3,84.60 L123.8,84.60 L124.3,84.60 L124.8,84.60 L125.3,84.60 L125.8,84.60 L126.3,84.60 L126.8,84.60 L127.3,84.60 L127.8,84.60 L128.3,84.60 L128.8,84.60 L129.3,84.60 L129.8,84.60 L130.3,84.60 L130.8,84.60 L131.3,84.60 L131.9,84.60 L132.4,84.60 L132.9,84.60 L133.4,84.60 L133.9,84.60 L134.4,84.60 L134.9,84.60 L135.4,84.60 L135.9,84.60 L136.4,84.60 L136.9,84.60 L137.4,84.60 L137.9,84.60 L138.4,84.60 L138.9,84.60 L139.4,84.60 L139.9,84.60 L140.4,84.60 L140.9,84.60 L141.4,84.60 L141.9,84.60 L142.4,84.59 L142.9,84.59 L143.4,84.58 L143.9,84.58 L144.4,84.57 L144.9,84.55 L145.4,84.53 L145.9,84.50 L146.4,84.47 L146.9,84.42 L147.4,84.36 L147.9,84.28 L148.4,84.19 L148.9,84.07 L149.4,83.93 L149.9,83.75 L150.4,83.51 L150.9,83.21 L151.4,82.81 L151.9,82.26 L152.4,81.51 L153.0,80.50 L153.5,79.18 L154.0,77.52 L154.5,75.56 L155.0,73.37 L155.5,71.12 L156.0,69.03 L156.5,67.34 L157.0,66.29 L157.5,66.01 L158.0,66.45 L158.5,67.49 L159.0,69.02 L159.5,70.89 L160.0,72.92 L160.5,74.95 L161.0,76.85 L161.5,78.53 L162.0,79.95 L162.5,81.10 L163.0,81.99 L163.5,82.67 L164.0,83.17 L164.5,83.54 L165.0,83.81 L165.5,84.01 L166.0,84.16 L166.5,84.27 L167.0,84.36 L167.5,84.42 L168.0,84.47 L168.5,84.50 L169.0,84.53 L169.5,84.55 L170.0,84.57 L170.5,84.58 L171.0,84.58 L171.5,84.59 L172.0,84.59 L172.5,84.60 L173.0,84.60 L173.5,84.60 L174.1,84.60 L174.6,84.60 L175.1,84.60 L175.6,84.60 L176.1,84.60 L176.6,84.60 L177.1,84.60 L177.6,84.60 L178.1,84.60 L178.6,84.60 L179.1,84.60 L179.6,84.60 L180.1,84.60 L180.6,84.60 L181.1,84.60 L181.6,84.60 L182.1,84.60 L182.6,84.60 L183.1,84.60 L183.6,84.60 L184.1,84.60 L184.6,84.60" fill="none" stroke="#a9a1d6" stroke-width="0.8" stroke-linejoin="round"/>
<line x1="160.80" y1="40.50" x2="160.80" y2="92.00" stroke="#555" stroke-width="1" />
<text x="162.70" y="53.10" font-size="8.4" fill="#1a1a1a" stroke="#1a1a1a" stroke-width="0.2" textLength="23.30" lengthAdjust="spacingAndGlyphs" >DMSO</text>
<text x="162.70" y="73.70" font-size="8.4" fill="#1a1a1a" stroke="#1a1a1a" stroke-width="0.2" textLength="21.30" lengthAdjust="spacingAndGlyphs" >32 uM</text>
<path d="M192.7,63.30 L193.2,63.30 L193.7,63.30 L194.2,63.30 L194.7,63.30 L195.2,63.30 L195.7,63.30 L196.2,63.30 L196.7,63.30 L197.2,63.30 L197.7,63.30 L198.2,63.30 L198.7,63.30 L199.2,63.30 L199.7,63.30 L200.2,63.30 L200.7,63.30 L201.2,63.29 L201.7,63.29 L202.2,63.29 L202.7,63.29 L203.2,63.28 L203.7,63.27 L204.2,63.26 L204.7,63.25 L205.2,63.24 L205.7,63.22 L206.2,63.20 L206.7,63.18 L207.2,63.14 L207.7,63.11 L208.2,63.07 L208.7,63.02 L209.2,62.96 L209.7,62.90 L210.2,62.83 L210.7,62.75 L211.2,62.67 L211.7,62.58 L212.2,62.48 L212.7,62.38 L213.2,62.28 L213.7,62.18 L214.2,62.08 L214.7,61.97 L215.2,61.86 L215.7,61.74 L216.2,61.60 L216.7,61.43 L217.2,61.21 L217.7,60.91 L218.2,60.52 L218.7,59.99 L219.2,59.31 L219.7,58.44 L220.2,57.36 L220.7,56.07 L221.2,54.60 L221.7,52.97 L222.2,51.26 L222.7,49.55 L223.2,47.96 L223.7,46.58 L224.2,45.53 L224.7,44.90 L225.2,44.73 L225.7,45.14 L226.2,46.17 L226.7,47.71 L227.2,49.62 L227.7,51.72 L228.2,53.85 L228.7,55.86 L229.2,57.66 L229.7,59.17 L230.2,60.39 L230.7,61.32 L231.2,62.00 L231.7,62.47 L232.2,62.79 L232.7,63.00 L233.2,63.13 L233.7,63.20 L234.2,63.25 L234.7,63.27 L235.2,63.28 L235.7,63.29 L236.2,63.30 L236.7,63.30 L237.2,63.30 L237.7,63.30 L238.2,63.30 L238.7,63.30 L239.2,63.30 L239.7,63.30 L240.2,63.30 L240.7,63.30 L241.2,63.30 L241.7,63.30 L242.2,63.30 L242.7,63.30 L243.2,63.30 L243.7,63.30 L244.2,63.30 L244.7,63.30 L245.2,63.30 L245.7,63.30 L246.2,63.30 L246.7,63.30 L247.2,63.30 L247.7,63.30 L248.2,63.30 L248.7,63.30 L249.2,63.30 L249.7,63.30 L250.2,63.30 L250.7,63.30 L251.2,63.30 L251.7,63.30 L252.2,63.30 L252.7,63.30 L253.2,63.30 L253.7,63.30 L254.2,63.30 L254.7,63.30 L255.2,63.30 L255.7,63.30 L256.2,63.30 L256.7,63.30 L257.2,63.30 L257.7,63.30 L258.2,63.30 L258.7,63.30 L259.2,63.30 L259.7,63.30 L260.2,63.30 L260.7,63.30 L261.2,63.30 L261.7,63.30 L262.2,63.30 L262.7,63.30 L263.2,63.30 L263.7,63.30 L264.2,63.30 L264.7,63.30 L265.2,63.30 L265.7,63.30 L266.2,63.30 L266.7,63.30 L267.2,63.30 L267.7,63.30 L268.2,63.30 L268.7,63.30 L269.2,63.30 L269.7,63.30 L270.2,63.30 L270.7,63.30 L271.2,63.30 L271.7,63.30 L272.2,63.30 L272.7,63.30 L273.2,63.30 L273.7,63.30 L274.2,63.30 L274.7,63.30 L275.2,63.30 L275.7,63.30 L276.2,63.30 L276.7,63.30 L277.2,63.30 L277.7,63.30 L278.2,63.30 L278.7,63.30 L279.2,63.30 L279.20,63.30 L192.70,63.30 Z" fill="#9c9c9c" stroke="none"/>
<path d="M192.7,63.30 L193.2,63.30 L193.7,63.30 L194.2,63.30 L194.7,63.30 L195.2,63.30 L195.7,63.30 L196.2,63.30 L196.7,63.30 L197.2,63.30 L197.7,63.30 L198.2,63.30 L198.7,63.30 L199.2,63.30 L199.7,63.30 L200.2,63.30 L200.7,63.30 L201.2,63.29 L201.7,63.29 L202.2,63.29 L202.7,63.29 L203.2,63.28 L203.7,63.27 L204.2,63.26 L204.7,63.25 L205.2,63.24 L205.7,63.22 L206.2,63.20 L206.7,63.18 L207.2,63.14 L207.7,63.11 L208.2,63.07 L208.7,63.02 L209.2,62.96 L209.7,62.90 L210.2,62.83 L210.7,62.75 L211.2,62.67 L211.7,62.58 L212.2,62.48 L212.7,62.38 L213.2,62.28 L213.7,62.18 L214.2,62.08 L214.7,61.97 L215.2,61.86 L215.7,61.74 L216.2,61.60 L216.7,61.43 L217.2,61.21 L217.7,60.91 L218.2,60.52 L218.7,59.99 L219.2,59.31 L219.7,58.44 L220.2,57.36 L220.7,56.07 L221.2,54.60 L221.7,52.97 L222.2,51.26 L222.7,49.55 L223.2,47.96 L223.7,46.58 L224.2,45.53 L224.7,44.90 L225.2,44.73 L225.7,45.14 L226.2,46.17 L226.7,47.71 L227.2,49.62 L227.7,51.72 L228.2,53.85 L228.7,55.86 L229.2,57.66 L229.7,59.17 L230.2,60.39 L230.7,61.32 L231.2,62.00 L231.7,62.47 L232.2,62.79 L232.7,63.00 L233.2,63.13 L233.7,63.20 L234.2,63.25 L234.7,63.27 L235.2,63.28 L235.7,63.29 L236.2,63.30 L236.7,63.30 L237.2,63.30 L237.7,63.30 L238.2,63.30 L238.7,63.30 L239.2,63.30 L239.7,63.30 L240.2,63.30 L240.7,63.30 L241.2,63.30 L241.7,63.30 L242.2,63.30 L242.7,63.30 L243.2,63.30 L243.7,63.30 L244.2,63.30 L244.7,63.30 L245.2,63.30 L245.7,63.30 L246.2,63.30 L246.7,63.30 L247.2,63.30 L247.7,63.30 L248.2,63.30 L248.7,63.30 L249.2,63.30 L249.7,63.30 L250.2,63.30 L250.7,63.30 L251.2,63.30 L251.7,63.30 L252.2,63.30 L252.7,63.30 L253.2,63.30 L253.7,63.30 L254.2,63.30 L254.7,63.30 L255.2,63.30 L255.7,63.30 L256.2,63.30 L256.7,63.30 L257.2,63.30 L257.7,63.30 L258.2,63.30 L258.7,63.30 L259.2,63.30 L259.7,63.30 L260.2,63.30 L260.7,63.30 L261.2,63.30 L261.7,63.30 L262.2,63.30 L262.7,63.30 L263.2,63.30 L263.7,63.30 L264.2,63.30 L264.7,63.30 L265.2,63.30 L265.7,63.30 L266.2,63.30 L266.7,63.30 L267.2,63.30 L267.7,63.30 L268.2,63.30 L268.7,63.30 L269.2,63.30 L269.7,63.30 L270.2,63.30 L270.7,63.30 L271.2,63.30 L271.7,63.30 L272.2,63.30 L272.7,63.30 L273.2,63.30 L273.7,63.30 L274.2,63.30 L274.7,63.30 L275.2,63.30 L275.7,63.30 L276.2,63.30 L276.7,63.30 L277.2,63.30 L277.7,63.30 L278.2,63.30 L278.7,63.30 L279.2,63.30" fill="none" stroke="#3a3a3a" stroke-width="0.8" stroke-linejoin="round"/>
<path d="M192.7,84.30 L193.2,84.30 L193.7,84.30 L194.2,84.30 L194.7,84.30 L195.2,84.30 L195.7,84.30 L196.2,84.30 L196.7,84.30 L197.2,84.30 L197.7,84.30 L198.2,84.30 L198.7,84.30 L199.2,84.30 L199.7,84.30 L200.2,84.30 L200.7,84.30 L201.2,84.30 L201.7,84.30 L202.2,84.30 L202.7,84.30 L203.2,84.29 L203.7,84.29 L204.2,84.29 L204.7,84.28 L205.2,84.27 L205.7,84.26 L206.2,84.25 L206.7,84.23 L207.2,84.21 L207.7,84.18 L208.2,84.15 L208.7,84.11 L209.2,84.06 L209.7,84.01 L210.2,83.95 L210.7,83.88 L211.2,83.81 L211.7,83.74 L212.2,83.66 L212.7,83.58 L213.2,83.50 L213.7,83.43 L214.2,83.35 L214.7,83.27 L215.2,83.17 L215.7,83.05 L216.2,82.89 L216.7,82.65 L217.2,82.32 L217.7,81.85 L218.2,81.21 L218.7,80.36 L219.2,79.29 L219.7,78.00 L220.2,76.50 L220.7,74.86 L221.2,73.15 L221.7,71.48 L222.2,69.98 L222.7,68.78 L223.2,67.98 L223.7,67.65 L224.2,67.82 L224.7,68.43 L225.2,69.43 L225.7,70.75 L226.2,72.28 L226.7,73.93 L227.2,75.60 L227.7,77.20 L228.2,78.66 L228.7,79.95 L229.2,81.03 L229.7,81.91 L230.2,82.60 L230.7,83.13 L231.2,83.51 L231.7,83.78 L232.2,83.97 L232.7,84.10 L233.2,84.18 L233.7,84.23 L234.2,84.26 L234.7,84.28 L235.2,84.29 L235.7,84.29 L236.2,84.30 L236.7,84.30 L237.2,84.30 L237.7,84.30 L238.2,84.30 L238.7,84.30 L239.2,84.30 L239.7,84.30 L240.2,84.30 L240.7,84.30 L241.2,84.30 L241.7,84.30 L242.2,84.30 L242.7,84.30 L243.2,84.30 L243.7,84.30 L244.2,84.30 L244.7,84.30 L245.2,84.30 L245.7,84.30 L246.2,84.30 L246.7,84.30 L247.2,84.30 L247.7,84.30 L248.2,84.30 L248.7,84.30 L249.2,84.30 L249.7,84.30 L250.2,84.30 L250.7,84.30 L251.2,84.30 L251.7,84.30 L252.2,84.30 L252.7,84.30 L253.2,84.30 L253.7,84.30 L254.2,84.30 L254.7,84.30 L255.2,84.30 L255.7,84.30 L256.2,84.30 L256.7,84.30 L257.2,84.30 L257.7,84.30 L258.2,84.30 L258.7,84.30 L259.2,84.30 L259.7,84.30 L260.2,84.30 L260.7,84.30 L261.2,84.30 L261.7,84.30 L262.2,84.30 L262.7,84.30 L263.2,84.30 L263.7,84.30 L264.2,84.30 L264.7,84.30 L265.2,84.30 L265.7,84.30 L266.2,84.30 L266.7,84.30 L267.2,84.30 L267.7,84.30 L268.2,84.30 L268.7,84.30 L269.2,84.30 L269.7,84.30 L270.2,84.30 L270.7,84.30 L271.2,84.30 L271.7,84.30 L272.2,84.30 L272.7,84.30 L273.2,84.30 L273.7,84.30 L274.2,84.30 L274.7,84.30 L275.2,84.30 L275.7,84.30 L276.2,84.30 L276.7,84.30 L277.2,84.30 L277.7,84.30 L278.2,84.30 L278.7,84.30 L279.2,84.30 L279.20,84.30 L192.70,84.30 Z" fill="#aebcdc" stroke="none"/>
<path d="M192.7,84.30 L193.2,84.30 L193.7,84.30 L194.2,84.30 L194.7,84.30 L195.2,84.30 L195.7,84.30 L196.2,84.30 L196.7,84.30 L197.2,84.30 L197.7,84.30 L198.2,84.30 L198.7,84.30 L199.2,84.30 L199.7,84.30 L200.2,84.30 L200.7,84.30 L201.2,84.30 L201.7,84.30 L202.2,84.30 L202.7,84.30 L203.2,84.29 L203.7,84.29 L204.2,84.29 L204.7,84.28 L205.2,84.27 L205.7,84.26 L206.2,84.25 L206.7,84.23 L207.2,84.21 L207.7,84.18 L208.2,84.15 L208.7,84.11 L209.2,84.06 L209.7,84.01 L210.2,83.95 L210.7,83.88 L211.2,83.81 L211.7,83.74 L212.2,83.66 L212.7,83.58 L213.2,83.50 L213.7,83.43 L214.2,83.35 L214.7,83.27 L215.2,83.17 L215.7,83.05 L216.2,82.89 L216.7,82.65 L217.2,82.32 L217.7,81.85 L218.2,81.21 L218.7,80.36 L219.2,79.29 L219.7,78.00 L220.2,76.50 L220.7,74.86 L221.2,73.15 L221.7,71.48 L222.2,69.98 L222.7,68.78 L223.2,67.98 L223.7,67.65 L224.2,67.82 L224.7,68.43 L225.2,69.43 L225.7,70.75 L226.2,72.28 L226.7,73.93 L227.2,75.60 L227.7,77.20 L228.2,78.66 L228.7,79.95 L229.2,81.03 L229.7,81.91 L230.2,82.60 L230.7,83.13 L231.2,83.51 L231.7,83.78 L232.2,83.97 L232.7,84.10 L233.2,84.18 L233.7,84.23 L234.2,84.26 L234.7,84.28 L235.2,84.29 L235.7,84.29 L236.2,84.30 L236.7,84.30 L237.2,84.30 L237.7,84.30 L238.2,84.30 L238.7,84.30 L239.2,84.30 L239.7,84.30 L240.2,84.30 L240.7,84.30 L241.2,84.30 L241.7,84.30 L242.2,84.30 L242.7,84.30 L243.2,84.30 L243.7,84.30 L244.2,84.30 L244.7,84.30 L245.2,84.30 L245.7,84.30 L246.2,84.30 L246.7,84.30 L247.2,84.30 L247.7,84.30 L248.2,84.30 L248.7,84.30 L249.2,84.30 L249.7,84.30 L250.2,84.30 L250.7,84.30 L251.2,84.30 L251.7,84.30 L252.2,84.30 L252.7,84.30 L253.2,84.30 L253.7,84.30 L254.2,84.30 L254.7,84.30 L255.2,84.30 L255.7,84.30 L256.2,84.30 L256.7,84.30 L257.2,84.30 L257.7,84.30 L258.2,84.30 L258.7,84.30 L259.2,84.30 L259.7,84.30 L260.2,84.30 L260.7,84.30 L261.2,84.30 L261.7,84.30 L262.2,84.30 L262.7,84.30 L263.2,84.30 L263.7,84.30 L264.2,84.30 L264.7,84.30 L265.2,84.30 L265.7,84.30 L266.2,84.30 L266.7,84.30 L267.2,84.30 L267.7,84.30 L268.2,84.30 L268.7,84.30 L269.2,84.30 L269.7,84.30 L270.2,84.30 L270.7,84.30 L271.2,84.30 L271.7,84.30 L272.2,84.30 L272.7,84.30 L273.2,84.30 L273.7,84.30 L274.2,84.30 L274.7,84.30 L275.2,84.30 L275.7,84.30 L276.2,84.30 L276.7,84.30 L277.2,84.30 L277.7,84.30 L278.2,84.30 L278.7,84.30 L279.2,84.30" fill="none" stroke="#6680b0" stroke-width="0.8" stroke-linejoin="round"/>
<path d="M192.7,105.40 L193.2,105.40 L193.7,105.40 L194.2,105.40 L194.7,105.40 L195.2,105.40 L195.7,105.40 L196.2,105.40 L196.7,105.40 L197.2,105.40 L197.7,105.40 L198.2,105.40 L198.7,105.40 L199.2,105.40 L199.7,105.40 L200.2,105.40 L200.7,105.39 L201.2,105.39 L201.7,105.38 L202.2,105.37 L202.7,105.36 L203.2,105.33 L203.7,105.30 L204.2,105.25 L204.7,105.18 L205.2,105.09 L205.7,104.98 L206.2,104.84 L206.7,104.67 L207.2,104.48 L207.7,104.27 L208.2,104.05 L208.7,103.82 L209.2,103.59 L209.7,103.37 L210.2,103.17 L210.7,102.99 L211.2,102.83 L211.7,102.68 L212.2,102.54 L212.7,102.40 L213.2,102.25 L213.7,102.09 L214.2,101.91 L214.7,101.72 L215.2,101.52 L215.7,101.30 L216.2,101.06 L216.7,100.76 L217.2,100.37 L217.7,99.81 L218.2,99.00 L218.7,97.88 L219.2,96.44 L219.7,94.73 L220.2,92.91 L220.7,91.22 L221.2,89.96 L221.7,89.37 L222.2,89.58 L222.7,90.39 L223.2,91.66 L223.7,93.28 L224.2,95.11 L224.7,96.99 L225.2,98.79 L225.7,100.40 L226.2,101.76 L226.7,102.86 L227.2,103.69 L227.7,104.30 L228.2,104.72 L228.7,104.99 L229.2,105.17 L229.7,105.27 L230.2,105.33 L230.7,105.37 L231.2,105.38 L231.7,105.39 L232.2,105.40 L232.7,105.40 L233.2,105.40 L233.7,105.40 L234.2,105.40 L234.7,105.40 L235.2,105.40 L235.7,105.40 L236.2,105.40 L236.7,105.40 L237.2,105.40 L237.7,105.40 L238.2,105.40 L238.7,105.40 L239.2,105.40 L239.7,105.40 L240.2,105.40 L240.7,105.40 L241.2,105.40 L241.7,105.40 L242.2,105.40 L242.7,105.40 L243.2,105.40 L243.7,105.40 L244.2,105.40 L244.7,105.40 L245.2,105.40 L245.7,105.40 L246.2,105.40 L246.7,105.40 L247.2,105.40 L247.7,105.40 L248.2,105.40 L248.7,105.40 L249.2,105.40 L249.7,105.40 L250.2,105.40 L250.7,105.40 L251.2,105.40 L251.7,105.40 L252.2,105.40 L252.7,105.40 L253.2,105.40 L253.7,105.40 L254.2,105.40 L254.7,105.40 L255.2,105.40 L255.7,105.40 L256.2,105.40 L256.7,105.40 L257.2,105.40 L257.7,105.40 L258.2,105.40 L258.7,105.40 L259.2,105.40 L259.7,105.40 L260.2,105.40 L260.7,105.40 L261.2,105.40 L261.7,105.40 L262.2,105.40 L262.7,105.40 L263.2,105.40 L263.7,105.40 L264.2,105.40 L264.7,105.40 L265.2,105.40 L265.7,105.40 L266.2,105.40 L266.7,105.40 L267.2,105.40 L267.7,105.40 L268.2,105.40 L268.7,105.40 L269.2,105.40 L269.7,105.40 L270.2,105.40 L270.7,105.40 L271.2,105.40 L271.7,105.40 L272.2,105.40 L272.7,105.40 L273.2,105.40 L273.7,105.40 L274.2,105.40 L274.7,105.40 L275.2,105.40 L275.7,105.40 L276.2,105.40 L276.7,105.40 L277.2,105.40 L277.7,105.40 L278.2,105.40 L278.7,105.40 L279.2,105.40 L279.20,105.40 L192.70,105.40 Z" fill="#7f93c2" stroke="none"/>
<path d="M192.7,105.40 L193.2,105.40 L193.7,105.40 L194.2,105.40 L194.7,105.40 L195.2,105.40 L195.7,105.40 L196.2,105.40 L196.7,105.40 L197.2,105.40 L197.7,105.40 L198.2,105.40 L198.7,105.40 L199.2,105.40 L199.7,105.40 L200.2,105.40 L200.7,105.39 L201.2,105.39 L201.7,105.38 L202.2,105.37 L202.7,105.36 L203.2,105.33 L203.7,105.30 L204.2,105.25 L204.7,105.18 L205.2,105.09 L205.7,104.98 L206.2,104.84 L206.7,104.67 L207.2,104.48 L207.7,104.27 L208.2,104.05 L208.7,103.82 L209.2,103.59 L209.7,103.37 L210.2,103.17 L210.7,102.99 L211.2,102.83 L211.7,102.68 L212.2,102.54 L212.7,102.40 L213.2,102.25 L213.7,102.09 L214.2,101.91 L214.7,101.72 L215.2,101.52 L215.7,101.30 L216.2,101.06 L216.7,100.76 L217.2,100.37 L217.7,99.81 L218.2,99.00 L218.7,97.88 L219.2,96.44 L219.7,94.73 L220.2,92.91 L220.7,91.22 L221.2,89.96 L221.7,89.37 L222.2,89.58 L222.7,90.39 L223.2,91.66 L223.7,93.28 L224.2,95.11 L224.7,96.99 L225.2,98.79 L225.7,100.40 L226.2,101.76 L226.7,102.86 L227.2,103.69 L227.7,104.30 L228.2,104.72 L228.7,104.99 L229.2,105.17 L229.7,105.27 L230.2,105.33 L230.7,105.37 L231.2,105.38 L231.7,105.39 L232.2,105.40 L232.7,105.40 L233.2,105.40 L233.7,105.40 L234.2,105.40 L234.7,105.40 L235.2,105.40 L235.7,105.40 L236.2,105.40 L236.7,105.40 L237.2,105.40 L237.7,105.40 L238.2,105.40 L238.7,105.40 L239.2,105.40 L239.7,105.40 L240.2,105.40 L240.7,105.40 L241.2,105.40 L241.7,105.40 L242.2,105.40 L242.7,105.40 L243.2,105.40 L243.7,105.40 L244.2,105.40 L244.7,105.40 L245.2,105.40 L245.7,105.40 L246.2,105.40 L246.7,105.40 L247.2,105.40 L247.7,105.40 L248.2,105.40 L248.7,105.40 L249.2,105.40 L249.7,105.40 L250.2,105.40 L250.7,105.40 L251.2,105.40 L251.7,105.40 L252.2,105.40 L252.7,105.40 L253.2,105.40 L253.7,105.40 L254.2,105.40 L254.7,105.40 L255.2,105.40 L255.7,105.40 L256.2,105.40 L256.7,105.40 L257.2,105.40 L257.7,105.40 L258.2,105.40 L258.7,105.40 L259.2,105.40 L259.7,105.40 L260.2,105.40 L260.7,105.40 L261.2,105.40 L261.7,105.40 L262.2,105.40 L262.7,105.40 L263.2,105.40 L263.7,105.40 L264.2,105.40 L264.7,105.40 L265.2,105.40 L265.7,105.40 L266.2,105.40 L266.7,105.40 L267.2,105.40 L267.7,105.40 L268.2,105.40 L268.7,105.40 L269.2,105.40 L269.7,105.40 L270.2,105.40 L270.7,105.40 L271.2,105.40 L271.7,105.40 L272.2,105.40 L272.7,105.40 L273.2,105.40 L273.7,105.40 L274.2,105.40 L274.7,105.40 L275.2,105.40 L275.7,105.40 L276.2,105.40 L276.7,105.40 L277.2,105.40 L277.7,105.40 L278.2,105.40 L278.7,105.40 L279.2,105.40" fill="none" stroke="#4a6298" stroke-width="0.8" stroke-linejoin="round"/>
<path d="M192.7,127.10 L193.2,127.10 L193.7,127.10 L194.2,127.10 L194.7,127.10 L195.2,127.10 L195.7,127.10 L196.2,127.10 L196.7,127.10 L197.2,127.10 L197.7,127.10 L198.2,127.10 L198.7,127.09 L199.2,127.09 L199.7,127.08 L200.2,127.07 L200.7,127.04 L201.2,127.00 L201.7,126.93 L202.2,126.80 L202.7,126.60 L203.2,126.27 L203.7,125.76 L204.2,125.06 L204.7,124.18 L205.2,123.21 L205.7,122.30 L206.2,121.56 L206.7,121.02 L207.2,120.66 L207.7,120.43 L208.2,120.25 L208.7,120.07 L209.2,119.91 L209.7,119.78 L210.2,119.67 L210.7,119.56 L211.2,119.47 L211.7,119.40 L212.2,119.34 L212.7,119.32 L213.2,119.37 L213.7,119.50 L214.2,119.76 L214.7,120.15 L215.2,120.63 L215.7,121.04 L216.2,121.17 L216.7,120.89 L217.2,120.15 L217.7,119.02 L218.2,117.60 L218.7,116.02 L219.2,114.46 L219.7,113.08 L220.2,112.05 L220.7,111.50 L221.2,111.53 L221.7,112.17 L222.2,113.38 L222.7,115.02 L223.2,116.91 L223.7,118.86 L224.2,120.73 L224.7,122.38 L225.2,123.75 L225.7,124.82 L226.2,125.62 L226.7,126.18 L227.2,126.55 L227.7,126.79 L228.2,126.93 L228.7,127.01 L229.2,127.05 L229.7,127.08 L230.2,127.09 L230.7,127.10 L231.2,127.10 L231.7,127.10 L232.2,127.10 L232.7,127.10 L233.2,127.10 L233.7,127.10 L234.2,127.10 L234.7,127.10 L235.2,127.10 L235.7,127.10 L236.2,127.10 L236.7,127.10 L237.2,127.10 L237.7,127.10 L238.2,127.10 L238.7,127.10 L239.2,127.10 L239.7,127.10 L240.2,127.10 L240.7,127.10 L241.2,127.10 L241.7,127.10 L242.2,127.10 L242.7,127.10 L243.2,127.10 L243.7,127.10 L244.2,127.10 L244.7,127.10 L245.2,127.10 L245.7,127.10 L246.2,127.10 L246.7,127.10 L247.2,127.10 L247.7,127.10 L248.2,127.10 L248.7,127.10 L249.2,127.10 L249.7,127.10 L250.2,127.10 L250.7,127.10 L251.2,127.10 L251.7,127.10 L252.2,127.10 L252.7,127.10 L253.2,127.10 L253.7,127.10 L254.2,127.10 L254.7,127.10 L255.2,127.10 L255.7,127.10 L256.2,127.10 L256.7,127.10 L257.2,127.10 L257.7,127.10 L258.2,127.10 L258.7,127.10 L259.2,127.10 L259.7,127.10 L260.2,127.10 L260.7,127.10 L261.2,127.10 L261.7,127.10 L262.2,127.10 L262.7,127.10 L263.2,127.10 L263.7,127.10 L264.2,127.10 L264.7,127.10 L265.2,127.10 L265.7,127.10 L266.2,127.10 L266.7,127.10 L267.2,127.10 L267.7,127.10 L268.2,127.10 L268.7,127.10 L269.2,127.10 L269.7,127.10 L270.2,127.10 L270.7,127.10 L271.2,127.10 L271.7,127.10 L272.2,127.10 L272.7,127.10 L273.2,127.10 L273.7,127.10 L274.2,127.10 L274.7,127.10 L275.2,127.10 L275.7,127.10 L276.2,127.10 L276.7,127.10 L277.2,127.10 L277.7,127.10 L278.2,127.10 L278.7,127.10 L279.2,127.10 L279.20,127.10 L192.70,127.10 Z" fill="#3f5f95" stroke="none"/>
<path d="M192.7,127.10 L193.2,127.10 L193.7,127.10 L194.2,127.10 L194.7,127.10 L195.2,127.10 L195.7,127.10 L196.2,127.10 L196.7,127.10 L197.2,127.10 L197.7,127.10 L198.2,127.10 L198.7,127.09 L199.2,127.09 L199.7,127.08 L200.2,127.07 L200.7,127.04 L201.2,127.00 L201.7,126.93 L202.2,126.80 L202.7,126.60 L203.2,126.27 L203.7,125.76 L204.2,125.06 L204.7,124.18 L205.2,123.21 L205.7,122.30 L206.2,121.56 L206.7,121.02 L207.2,120.66 L207.7,120.43 L208.2,120.25 L208.7,120.07 L209.2,119.91 L209.7,119.78 L210.2,119.67 L210.7,119.56 L211.2,119.47 L211.7,119.40 L212.2,119.34 L212.7,119.32 L213.2,119.37 L213.7,119.50 L214.2,119.76 L214.7,120.15 L215.2,120.63 L215.7,121.04 L216.2,121.17 L216.7,120.89 L217.2,120.15 L217.7,119.02 L218.2,117.60 L218.7,116.02 L219.2,114.46 L219.7,113.08 L220.2,112.05 L220.7,111.50 L221.2,111.53 L221.7,112.17 L222.2,113.38 L222.7,115.02 L223.2,116.91 L223.7,118.86 L224.2,120.73 L224.7,122.38 L225.2,123.75 L225.7,124.82 L226.2,125.62 L226.7,126.18 L227.2,126.55 L227.7,126.79 L228.2,126.93 L228.7,127.01 L229.2,127.05 L229.7,127.08 L230.2,127.09 L230.7,127.10 L231.2,127.10 L231.7,127.10 L232.2,127.10 L232.7,127.10 L233.2,127.10 L233.7,127.10 L234.2,127.10 L234.7,127.10 L235.2,127.10 L235.7,127.10 L236.2,127.10 L236.7,127.10 L237.2,127.10 L237.7,127.10 L238.2,127.10 L238.7,127.10 L239.2,127.10 L239.7,127.10 L240.2,127.10 L240.7,127.10 L241.2,127.10 L241.7,127.10 L242.2,127.10 L242.7,127.10 L243.2,127.10 L243.7,127.10 L244.2,127.10 L244.7,127.10 L245.2,127.10 L245.7,127.10 L246.2,127.10 L246.7,127.10 L247.2,127.10 L247.7,127.10 L248.2,127.10 L248.7,127.10 L249.2,127.10 L249.7,127.10 L250.2,127.10 L250.7,127.10 L251.2,127.10 L251.7,127.10 L252.2,127.10 L252.7,127.10 L253.2,127.10 L253.7,127.10 L254.2,127.10 L254.7,127.10 L255.2,127.10 L255.7,127.10 L256.2,127.10 L256.7,127.10 L257.2,127.10 L257.7,127.10 L258.2,127.10 L258.7,127.10 L259.2,127.10 L259.7,127.10 L260.2,127.10 L260.7,127.10 L261.2,127.10 L261.7,127.10 L262.2,127.10 L262.7,127.10 L263.2,127.10 L263.7,127.10 L264.2,127.10 L264.7,127.10 L265.2,127.10 L265.7,127.10 L266.2,127.10 L266.7,127.10 L267.2,127.10 L267.7,127.10 L268.2,127.10 L268.7,127.10 L269.2,127.10 L269.7,127.10 L270.2,127.10 L270.7,127.10 L271.2,127.10 L271.7,127.10 L272.2,127.10 L272.7,127.10 L273.2,127.10 L273.7,127.10 L274.2,127.10 L274.7,127.10 L275.2,127.10 L275.7,127.10 L276.2,127.10 L276.7,127.10 L277.2,127.10 L277.7,127.10 L278.2,127.10 L278.7,127.10 L279.2,127.10" fill="none" stroke="#2a4778" stroke-width="0.8" stroke-linejoin="round"/>
<line x1="225.80" y1="41.00" x2="225.80" y2="128.50" stroke="#555" stroke-width="1" />
<text x="256.00" y="53.10" font-size="8.4" fill="#1a1a1a" stroke="#1a1a1a" stroke-width="0.2" textLength="24.00" lengthAdjust="spacingAndGlyphs" >DMSO</text>
<text x="257.00" y="73.50" font-size="8.4" fill="#1a1a1a" stroke="#1a1a1a" stroke-width="0.2" textLength="21.00" lengthAdjust="spacingAndGlyphs" >10 uM</text>
<text x="257.00" y="94.80" font-size="8.4" fill="#1a1a1a" stroke="#1a1a1a" stroke-width="0.2" textLength="21.00" lengthAdjust="spacingAndGlyphs" >12 uM</text>
<text x="257.00" y="116.10" font-size="8.4" fill="#1a1a1a" stroke="#1a1a1a" stroke-width="0.2" textLength="21.00" lengthAdjust="spacingAndGlyphs" >16 uM</text>
<path d="M287.5,63.30 L288.0,63.30 L288.5,63.30 L289.0,63.30 L289.5,63.30 L290.0,63.30 L290.5,63.29 L291.0,63.29 L291.5,63.29 L292.0,63.29 L292.5,63.29 L293.0,63.28 L293.5,63.28 L294.0,63.27 L294.5,63.26 L295.0,63.26 L295.5,63.25 L296.0,63.23 L296.5,63.22 L297.0,63.20 L297.5,63.19 L298.0,63.16 L298.5,63.14 L299.0,63.11 L299.5,63.08 L300.0,63.05 L300.5,63.01 L301.0,62.98 L301.5,62.93 L302.0,62.89 L302.5,62.84 L303.0,62.79 L303.5,62.74 L304.0,62.69 L304.5,62.64 L305.0,62.59 L305.5,62.54 L306.0,62.50 L306.5,62.45 L307.0,62.41 L307.5,62.38 L308.0,62.34 L308.5,62.31 L309.0,62.28 L309.5,62.25 L310.0,62.22 L310.5,62.18 L311.0,62.13 L311.5,62.07 L312.0,61.98 L312.5,61.85 L313.0,61.69 L313.5,61.48 L314.0,61.22 L314.5,60.89 L315.0,60.50 L315.5,60.05 L316.0,59.54 L316.5,58.98 L317.0,58.37 L317.5,57.66 L318.0,56.78 L318.5,55.55 L319.0,53.78 L319.5,51.42 L320.0,48.74 L320.5,46.37 L321.0,45.12 L321.5,45.48 L322.0,47.25 L322.5,49.92 L323.0,52.81 L323.5,55.38 L324.0,57.38 L324.5,58.82 L325.0,59.83 L325.5,60.57 L326.0,61.15 L326.5,61.61 L327.0,62.00 L327.5,62.31 L328.0,62.56 L328.5,62.76 L329.0,62.92 L329.5,63.03 L330.0,63.12 L330.5,63.18 L331.0,63.22 L331.5,63.25 L332.0,63.27 L332.5,63.28 L333.0,63.29 L333.5,63.29 L334.0,63.30 L334.5,63.30 L335.0,63.30 L335.5,63.30 L336.0,63.30 L336.5,63.30 L337.0,63.30 L337.5,63.30 L338.0,63.30 L338.5,63.30 L339.0,63.30 L339.5,63.30 L340.0,63.30 L340.5,63.30 L341.0,63.30 L341.5,63.30 L342.0,63.30 L342.5,63.30 L343.0,63.30 L343.5,63.30 L344.0,63.30 L344.5,63.30 L345.0,63.30 L345.5,63.30 L346.0,63.30 L346.5,63.30 L347.0,63.30 L347.5,63.30 L348.0,63.30 L348.5,63.30 L349.0,63.30 L349.5,63.30 L350.0,63.30 L350.5,63.30 L351.0,63.30 L351.5,63.30 L352.0,63.30 L352.5,63.30 L353.0,63.30 L353.5,63.30 L354.0,63.30 L354.5,63.30 L355.0,63.30 L355.5,63.30 L356.0,63.30 L356.5,63.30 L357.0,63.30 L357.5,63.30 L358.0,63.30 L358.5,63.30 L359.0,63.30 L359.5,63.30 L360.0,63.30 L360.5,63.30 L361.0,63.30 L361.5,63.30 L362.0,63.30 L362.5,63.30 L363.0,63.30 L363.5,63.30 L364.0,63.30 L364.5,63.30 L365.0,63.30 L365.5,63.30 L366.0,63.30 L366.5,63.30 L367.0,63.30 L367.5,63.30 L368.0,63.30 L368.5,63.30 L369.0,63.30 L369.5,63.30 L370.0,63.30 L370.5,63.30 L371.0,63.30 L371.00,63.30 L287.50,63.30 Z" fill="#9c9c9c" stroke="none"/>
<path d="M287.5,63.30 L288.0,63.30 L288.5,63.30 L289.0,63.30 L289.5,63.30 L290.0,63.30 L290.5,63.29 L291.0,63.29 L291.5,63.29 L292.0,63.29 L292.5,63.29 L293.0,63.28 L293.5,63.28 L294.0,63.27 L294.5,63.26 L295.0,63.26 L295.5,63.25 L296.0,63.23 L296.5,63.22 L297.0,63.20 L297.5,63.19 L298.0,63.16 L298.5,63.14 L299.0,63.11 L299.5,63.08 L300.0,63.05 L300.5,63.01 L301.0,62.98 L301.5,62.93 L302.0,62.89 L302.5,62.84 L303.0,62.79 L303.5,62.74 L304.0,62.69 L304.5,62.64 L305.0,62.59 L305.5,62.54 L306.0,62.50 L306.5,62.45 L307.0,62.41 L307.5,62.38 L308.0,62.34 L308.5,62.31 L309.0,62.28 L309.5,62.25 L310.0,62.22 L310.5,62.18 L311.0,62.13 L311.5,62.07 L312.0,61.98 L312.5,61.85 L313.0,61.69 L313.5,61.48 L314.0,61.22 L314.5,60.89 L315.0,60.50 L315.5,60.05 L316.0,59.54 L316.5,58.98 L317.0,58.37 L317.5,57.66 L318.0,56.78 L318.5,55.55 L319.0,53.78 L319.5,51.42 L320.0,48.74 L320.5,46.37 L321.0,45.12 L321.5,45.48 L322.0,47.25 L322.5,49.92 L323.0,52.81 L323.5,55.38 L324.0,57.38 L324.5,58.82 L325.0,59.83 L325.5,60.57 L326.0,61.15 L326.5,61.61 L327.0,62.00 L327.5,62.31 L328.0,62.56 L328.5,62.76 L329.0,62.92 L329.5,63.03 L330.0,63.12 L330.5,63.18 L331.0,63.22 L331.5,63.25 L332.0,63.27 L332.5,63.28 L333.0,63.29 L333.5,63.29 L334.0,63.30 L334.5,63.30 L335.0,63.30 L335.5,63.30 L336.0,63.30 L336.5,63.30 L337.0,63.30 L337.5,63.30 L338.0,63.30 L338.5,63.30 L339.0,63.30 L339.5,63.30 L340.0,63.30 L340.5,63.30 L341.0,63.30 L341.5,63.30 L342.0,63.30 L342.5,63.30 L343.0,63.30 L343.5,63.30 L344.0,63.30 L344.5,63.30 L345.0,63.30 L345.5,63.30 L346.0,63.30 L346.5,63.30 L347.0,63.30 L347.5,63.30 L348.0,63.30 L348.5,63.30 L349.0,63.30 L349.5,63.30 L350.0,63.30 L350.5,63.30 L351.0,63.30 L351.5,63.30 L352.0,63.30 L352.5,63.30 L353.0,63.30 L353.5,63.30 L354.0,63.30 L354.5,63.30 L355.0,63.30 L355.5,63.30 L356.0,63.30 L356.5,63.30 L357.0,63.30 L357.5,63.30 L358.0,63.30 L358.5,63.30 L359.0,63.30 L359.5,63.30 L360.0,63.30 L360.5,63.30 L361.0,63.30 L361.5,63.30 L362.0,63.30 L362.5,63.30 L363.0,63.30 L363.5,63.30 L364.0,63.30 L364.5,63.30 L365.0,63.30 L365.5,63.30 L366.0,63.30 L366.5,63.30 L367.0,63.30 L367.5,63.30 L368.0,63.30 L368.5,63.30 L369.0,63.30 L369.5,63.30 L370.0,63.30 L370.5,63.30 L371.0,63.30" fill="none" stroke="#3a3a3a" stroke-width="0.8" stroke-linejoin="round"/>
<path d="M287.5,84.30 L288.0,84.30 L288.5,84.30 L289.0,84.30 L289.5,84.30 L290.0,84.30 L290.5,84.30 L291.0,84.30 L291.5,84.30 L292.0,84.30 L292.5,84.30 L293.0,84.30 L293.5,84.30 L294.0,84.30 L294.5,84.30 L295.0,84.30 L295.5,84.30 L296.0,84.30 L296.5,84.30 L297.0,84.30 L297.5,84.30 L298.0,84.30 L298.5,84.30 L299.0,84.30 L299.5,84.30 L300.0,84.30 L300.5,84.30 L301.0,84.30 L301.5,84.30 L302.0,84.30 L302.5,84.30 L303.0,84.30 L303.5,84.15 L304.0,84.00 L304.5,83.85 L305.0,83.70 L305.5,83.55 L306.0,83.40 L306.5,83.25 L307.0,83.10 L307.5,82.96 L308.0,82.81 L308.5,82.66 L309.0,82.51 L309.5,82.37 L310.0,82.22 L310.5,82.08 L311.0,81.93 L311.5,81.77 L312.0,81.61 L312.5,81.45 L313.0,81.26 L313.5,81.07 L314.0,80.85 L314.5,80.62 L315.0,80.36 L315.5,80.09 L316.0,79.80 L316.5,79.52 L317.0,79.25 L317.5,78.98 L318.0,78.69 L318.5,78.34 L319.0,77.69 L319.5,76.51 L320.0,74.68 L320.5,72.38 L321.0,70.18 L321.5,68.91 L322.0,69.09 L322.5,69.95 L323.0,71.19 L323.5,72.72 L324.0,74.40 L324.5,76.13 L325.0,77.78 L325.5,79.27 L326.0,80.56 L326.5,81.61 L327.0,82.43 L327.5,83.05 L328.0,83.49 L328.5,83.79 L329.0,83.99 L329.5,84.12 L330.0,84.19 L330.5,84.24 L331.0,84.27 L331.5,84.28 L332.0,84.29 L332.5,84.29 L333.0,84.30 L333.5,84.30 L334.0,84.30 L334.5,84.30 L335.0,84.30 L335.5,84.30 L336.0,84.30 L336.5,84.30 L337.0,84.30 L337.5,84.30 L338.0,84.30 L338.5,84.30 L339.0,84.30 L339.5,84.30 L340.0,84.30 L340.5,84.30 L341.0,84.30 L341.5,84.30 L342.0,84.30 L342.5,84.30 L343.0,84.30 L343.5,84.30 L344.0,84.30 L344.5,84.30 L345.0,84.30 L345.5,84.30 L346.0,84.30 L346.5,84.30 L347.0,84.30 L347.5,84.30 L348.0,84.30 L348.5,84.30 L349.0,84.30 L349.5,84.30 L350.0,84.30 L350.5,84.30 L351.0,84.30 L351.5,84.30 L352.0,84.30 L352.5,84.30 L353.0,84.30 L353.5,84.30 L354.0,84.30 L354.5,84.30 L355.0,84.30 L355.5,84.30 L356.0,84.30 L356.5,84.30 L357.0,84.30 L357.5,84.30 L358.0,84.30 L358.5,84.30 L359.0,84.30 L359.5,84.30 L360.0,84.30 L360.5,84.30 L361.0,84.30 L361.5,84.30 L362.0,84.30 L362.5,84.30 L363.0,84.30 L363.5,84.30 L364.0,84.30 L364.5,84.30 L365.0,84.30 L365.5,84.30 L366.0,84.30 L366.5,84.30 L367.0,84.30 L367.5,84.30 L368.0,84.30 L368.5,84.30 L369.0,84.30 L369.5,84.30 L370.0,84.30 L370.5,84.30 L371.0,84.30 L371.00,84.30 L287.50,84.30 Z" fill="#fbd9b2" stroke="none"/>
<path d="M287.5,84.30 L288.0,84.30 L288.5,84.30 L289.0,84.30 L289.5,84.30 L290.0,84.30 L290.5,84.30 L291.0,84.30 L291.5,84.30 L292.0,84.30 L292.5,84.30 L293.0,84.30 L293.5,84.30 L294.0,84.30 L294.5,84.30 L295.0,84.30 L295.5,84.30 L296.0,84.30 L296.5,84.30 L297.0,84.30 L297.5,84.30 L298.0,84.30 L298.5,84.30 L299.0,84.30 L299.5,84.30 L300.0,84.30 L300.5,84.30 L301.0,84.30 L301.5,84.30 L302.0,84.30 L302.5,84.30 L303.0,84.30 L303.5,84.15 L304.0,84.00 L304.5,83.85 L305.0,83.70 L305.5,83.55 L306.0,83.40 L306.5,83.25 L307.0,83.10 L307.5,82.96 L308.0,82.81 L308.5,82.66 L309.0,82.51 L309.5,82.37 L310.0,82.22 L310.5,82.08 L311.0,81.93 L311.5,81.77 L312.0,81.61 L312.5,81.45 L313.0,81.26 L313.5,81.07 L314.0,80.85 L314.5,80.62 L315.0,80.36 L315.5,80.09 L316.0,79.80 L316.5,79.52 L317.0,79.25 L317.5,78.98 L318.0,78.69 L318.5,78.34 L319.0,77.69 L319.5,76.51 L320.0,74.68 L320.5,72.38 L321.0,70.18 L321.5,68.91 L322.0,69.09 L322.5,69.95 L323.0,71.19 L323.5,72.72 L324.0,74.40 L324.5,76.13 L325.0,77.78 L325.5,79.27 L326.0,80.56 L326.5,81.61 L327.0,82.43 L327.5,83.05 L328.0,83.49 L328.5,83.79 L329.0,83.99 L329.5,84.12 L330.0,84.19 L330.5,84.24 L331.0,84.27 L331.5,84.28 L332.0,84.29 L332.5,84.29 L333.0,84.30 L333.5,84.30 L334.0,84.30 L334.5,84.30 L335.0,84.30 L335.5,84.30 L336.0,84.30 L336.5,84.30 L337.0,84.30 L337.5,84.30 L338.0,84.30 L338.5,84.30 L339.0,84.30 L339.5,84.30 L340.0,84.30 L340.5,84.30 L341.0,84.30 L341.5,84.30 L342.0,84.30 L342.5,84.30 L343.0,84.30 L343.5,84.30 L344.0,84.30 L344.5,84.30 L345.0,84.30 L345.5,84.30 L346.0,84.30 L346.5,84.30 L347.0,84.30 L347.5,84.30 L348.0,84.30 L348.5,84.30 L349.0,84.30 L349.5,84.30 L350.0,84.30 L350.5,84.30 L351.0,84.30 L351.5,84.30 L352.0,84.30 L352.5,84.30 L353.0,84.30 L353.5,84.30 L354.0,84.30 L354.5,84.30 L355.0,84.30 L355.5,84.30 L356.0,84.30 L356.5,84.30 L357.0,84.30 L357.5,84.30 L358.0,84.30 L358.5,84.30 L359.0,84.30 L359.5,84.30 L360.0,84.30 L360.5,84.30 L361.0,84.30 L361.5,84.30 L362.0,84.30 L362.5,84.30 L363.0,84.30 L363.5,84.30 L364.0,84.30 L364.5,84.30 L365.0,84.30 L365.5,84.30 L366.0,84.30 L366.5,84.30 L367.0,84.30 L367.5,84.30 L368.0,84.30 L368.5,84.30 L369.0,84.30 L369.5,84.30 L370.0,84.30 L370.5,84.30 L371.0,84.30" fill="none" stroke="#f2a550" stroke-width="0.8" stroke-linejoin="round"/>
<path d="M287.5,105.40 L288.0,105.40 L288.5,105.40 L289.0,105.40 L289.5,105.40 L290.0,105.40 L290.5,105.40 L291.0,105.40 L291.5,105.40 L292.0,105.40 L292.5,105.40 L293.0,105.40 L293.5,105.40 L294.0,105.40 L294.5,105.39 L295.0,105.39 L295.5,105.39 L296.0,105.38 L296.5,105.38 L297.0,105.37 L297.5,105.36 L298.0,105.36 L298.5,105.34 L299.0,105.33 L299.5,105.31 L300.0,105.29 L300.5,105.27 L301.0,105.24 L301.5,105.21 L302.0,105.18 L302.5,105.14 L303.0,105.10 L303.5,105.05 L304.0,105.01 L304.5,104.96 L305.0,104.90 L305.5,104.85 L306.0,104.80 L306.5,104.74 L307.0,104.69 L307.5,104.63 L308.0,104.57 L308.5,104.52 L309.0,104.46 L309.5,104.39 L310.0,104.33 L310.5,104.26 L311.0,104.18 L311.5,104.10 L312.0,104.01 L312.5,103.92 L313.0,103.82 L313.5,103.71 L314.0,103.60 L314.5,103.50 L315.0,103.40 L315.5,103.30 L316.0,103.20 L316.5,103.11 L317.0,103.00 L317.5,102.86 L318.0,102.65 L318.5,102.34 L319.0,101.86 L319.5,101.17 L320.0,100.21 L320.5,98.96 L321.0,97.41 L321.5,95.62 L322.0,93.72 L322.5,91.85 L323.0,90.21 L323.5,88.99 L324.0,88.36 L324.5,88.47 L325.0,89.80 L325.5,92.19 L326.0,95.12 L326.5,98.05 L327.0,100.56 L327.5,102.47 L328.0,103.77 L328.5,104.56 L329.0,104.99 L329.5,105.21 L330.0,105.32 L330.5,105.36 L331.0,105.38 L331.5,105.39 L332.0,105.39 L332.5,105.40 L333.0,105.40 L333.5,105.40 L334.0,105.40 L334.5,105.40 L335.0,105.40 L335.5,105.40 L336.0,105.40 L336.5,105.40 L337.0,105.40 L337.5,105.40 L338.0,105.40 L338.5,105.40 L339.0,105.40 L339.5,105.40 L340.0,105.40 L340.5,105.40 L341.0,105.40 L341.5,105.40 L342.0,105.40 L342.5,105.40 L343.0,105.40 L343.5,105.40 L344.0,105.40 L344.5,105.40 L345.0,105.40 L345.5,105.40 L346.0,105.40 L346.5,105.40 L347.0,105.40 L347.5,105.40 L348.0,105.40 L348.5,105.40 L349.0,105.40 L349.5,105.40 L350.0,105.40 L350.5,105.40 L351.0,105.40 L351.5,105.40 L352.0,105.40 L352.5,105.40 L353.0,105.40 L353.5,105.40 L354.0,105.40 L354.5,105.40 L355.0,105.40 L355.5,105.40 L356.0,105.40 L356.5,105.40 L357.0,105.40 L357.5,105.40 L358.0,105.40 L358.5,105.40 L359.0,105.40 L359.5,105.40 L360.0,105.40 L360.5,105.40 L361.0,105.40 L361.5,105.40 L362.0,105.40 L362.5,105.40 L363.0,105.40 L363.5,105.40 L364.0,105.40 L364.5,105.40 L365.0,105.40 L365.5,105.40 L366.0,105.40 L366.5,105.40 L367.0,105.40 L367.5,105.40 L368.0,105.40 L368.5,105.40 L369.0,105.40 L369.5,105.40 L370.0,105.40 L370.5,105.40 L371.0,105.40 L371.00,105.40 L287.50,105.40 Z" fill="#f6b264" stroke="none"/>
<path d="M287.5,105.40 L288.0,105.40 L288.5,105.40 L289.0,105.40 L289.5,105.40 L290.0,105.40 L290.5,105.40 L291.0,105.40 L291.5,105.40 L292.0,105.40 L292.5,105.40 L293.0,105.40 L293.5,105.40 L294.0,105.40 L294.5,105.39 L295.0,105.39 L295.5,105.39 L296.0,105.38 L296.5,105.38 L297.0,105.37 L297.5,105.36 L298.0,105.36 L298.5,105.34 L299.0,105.33 L299.5,105.31 L300.0,105.29 L300.5,105.27 L301.0,105.24 L301.5,105.21 L302.0,105.18 L302.5,105.14 L303.0,105.10 L303.5,105.05 L304.0,105.01 L304.5,104.96 L305.0,104.90 L305.5,104.85 L306.0,104.80 L306.5,104.74 L307.0,104.69 L307.5,104.63 L308.0,104.57 L308.5,104.52 L309.0,104.46 L309.5,104.39 L310.0,104.33 L310.5,104.26 L311.0,104.18 L311.5,104.10 L312.0,104.01 L312.5,103.92 L313.0,103.82 L313.5,103.71 L314.0,103.60 L314.5,103.50 L315.0,103.40 L315.5,103.30 L316.0,103.20 L316.5,103.11 L317.0,103.00 L317.5,102.86 L318.0,102.65 L318.5,102.34 L319.0,101.86 L319.5,101.17 L320.0,100.21 L320.5,98.96 L321.0,97.41 L321.5,95.62 L322.0,93.72 L322.5,91.85 L323.0,90.21 L323.5,88.99 L324.0,88.36 L324.5,88.47 L325.0,89.80 L325.5,92.19 L326.0,95.12 L326.5,98.05 L327.0,100.56 L327.5,102.47 L328.0,103.77 L328.5,104.56 L329.0,104.99 L329.5,105.21 L330.0,105.32 L330.5,105.36 L331.0,105.38 L331.5,105.39 L332.0,105.39 L332.5,105.40 L333.0,105.40 L333.5,105.40 L334.0,105.40 L334.5,105.40 L335.0,105.40 L335.5,105.40 L336.0,105.40 L336.5,105.40 L337.0,105.40 L337.5,105.40 L338.0,105.40 L338.5,105.40 L339.0,105.40 L339.5,105.40 L340.0,105.40 L340.5,105.40 L341.0,105.40 L341.5,105.40 L342.0,105.40 L342.5,105.40 L343.0,105.40 L343.5,105.40 L344.0,105.40 L344.5,105.40 L345.0,105.40 L345.5,105.40 L346.0,105.40 L346.5,105.40 L347.0,105.40 L347.5,105.40 L348.0,105.40 L348.5,105.40 L349.0,105.40 L349.5,105.40 L350.0,105.40 L350.5,105.40 L351.0,105.40 L351.5,105.40 L352.0,105.40 L352.5,105.40 L353.0,105.40 L353.5,105.40 L354.0,105.40 L354.5,105.40 L355.0,105.40 L355.5,105.40 L356.0,105.40 L356.5,105.40 L357.0,105.40 L357.5,105.40 L358.0,105.40 L358.5,105.40 L359.0,105.40 L359.5,105.40 L360.0,105.40 L360.5,105.40 L361.0,105.40 L361.5,105.40 L362.0,105.40 L362.5,105.40 L363.0,105.40 L363.5,105.40 L364.0,105.40 L364.5,105.40 L365.0,105.40 L365.5,105.40 L366.0,105.40 L366.5,105.40 L367.0,105.40 L367.5,105.40 L368.0,105.40 L368.5,105.40 L369.0,105.40 L369.5,105.40 L370.0,105.40 L370.5,105.40 L371.0,105.40" fill="none" stroke="#e59535" stroke-width="0.8" stroke-linejoin="round"/>
<path d="M287.5,127.10 L288.0,127.10 L288.5,127.10 L289.0,127.10 L289.5,127.10 L290.0,127.10 L290.5,127.10 L291.0,127.10 L291.5,127.10 L292.0,127.10 L292.5,127.10 L293.0,127.10 L293.5,127.10 L294.0,127.10 L294.5,127.09 L295.0,127.09 L295.5,127.09 L296.0,127.08 L296.5,127.08 L297.0,127.07 L297.5,127.06 L298.0,127.05 L298.5,127.03 L299.0,127.02 L299.5,126.99 L300.0,126.97 L300.5,126.93 L301.0,126.90 L301.5,126.85 L302.0,126.80 L302.5,126.75 L303.0,126.68 L303.5,126.61 L304.0,126.54 L304.5,126.45 L305.0,126.37 L305.5,126.28 L306.0,126.19 L306.5,126.09 L307.0,126.00 L307.5,125.91 L308.0,125.82 L308.5,125.73 L309.0,125.65 L309.5,125.57 L310.0,125.49 L310.5,125.40 L311.0,125.31 L311.5,125.21 L312.0,125.10 L312.5,124.96 L313.0,124.79 L313.5,124.58 L314.0,124.34 L314.5,124.05 L315.0,123.71 L315.5,123.31 L316.0,122.83 L316.5,122.25 L317.0,121.51 L317.5,120.55 L318.0,119.29 L318.5,117.68 L319.0,115.74 L319.5,113.59 L320.0,111.49 L320.5,109.76 L321.0,108.75 L321.5,108.67 L322.0,109.48 L322.5,111.02 L323.0,113.07 L323.5,115.36 L324.0,117.64 L324.5,119.72 L325.0,121.47 L325.5,122.87 L326.0,123.95 L326.5,124.75 L327.0,125.35 L327.5,125.79 L328.0,126.12 L328.5,126.37 L329.0,126.56 L329.5,126.70 L330.0,126.81 L330.5,126.90 L331.0,126.96 L331.5,127.00 L332.0,127.03 L332.5,127.06 L333.0,127.07 L333.5,127.08 L334.0,127.09 L334.5,127.09 L335.0,127.10 L335.5,127.10 L336.0,127.10 L336.5,127.10 L337.0,127.10 L337.5,127.10 L338.0,127.10 L338.5,127.10 L339.0,127.10 L339.5,127.10 L340.0,127.10 L340.5,127.10 L341.0,127.10 L341.5,127.10 L342.0,127.10 L342.5,127.10 L343.0,127.10 L343.5,127.10 L344.0,127.10 L344.5,127.10 L345.0,127.10 L345.5,127.10 L346.0,127.10 L346.5,127.10 L347.0,127.10 L347.5,127.10 L348.0,127.10 L348.5,127.10 L349.0,127.10 L349.5,127.10 L350.0,127.10 L350.5,127.10 L351.0,127.10 L351.5,127.10 L352.0,127.10 L352.5,127.10 L353.0,127.10 L353.5,127.10 L354.0,127.10 L354.5,127.10 L355.0,127.10 L355.5,127.10 L356.0,127.10 L356.5,127.10 L357.0,127.10 L357.5,127.10 L358.0,127.10 L358.5,127.10 L359.0,127.10 L359.5,127.10 L360.0,127.10 L360.5,127.10 L361.0,127.10 L361.5,127.10 L362.0,127.10 L362.5,127.10 L363.0,127.10 L363.5,127.10 L364.0,127.10 L364.5,127.10 L365.0,127.10 L365.5,127.10 L366.0,127.10 L366.5,127.10 L367.0,127.10 L367.5,127.10 L368.0,127.10 L368.5,127.10 L369.0,127.10 L369.5,127.10 L370.0,127.10 L370.5,127.10 L371.0,127.10 L371.00,127.10 L287.50,127.10 Z" fill="#eea040" stroke="none"/>
<path d="M287.5,127.10 L288.0,127.10 L288.5,127.10 L289.0,127.10 L289.5,127.10 L290.0,127.10 L290.5,127.10 L291.0,127.10 L291.5,127.10 L292.0,127.10 L292.5,127.10 L293.0,127.10 L293.5,127.10 L294.0,127.10 L294.5,127.09 L295.0,127.09 L295.5,127.09 L296.0,127.08 L296.5,127.08 L297.0,127.07 L297.5,127.06 L298.0,127.05 L298.5,127.03 L299.0,127.02 L299.5,126.99 L300.0,126.97 L300.5,126.93 L301.0,126.90 L301.5,126.85 L302.0,126.80 L302.5,126.75 L303.0,126.68 L303.5,126.61 L304.0,126.54 L304.5,126.45 L305.0,126.37 L305.5,126.28 L306.0,126.19 L306.5,126.09 L307.0,126.00 L307.5,125.91 L308.0,125.82 L308.5,125.73 L309.0,125.65 L309.5,125.57 L310.0,125.49 L310.5,125.40 L311.0,125.31 L311.5,125.21 L312.0,125.10 L312.5,124.96 L313.0,124.79 L313.5,124.58 L314.0,124.34 L314.5,124.05 L315.0,123.71 L315.5,123.31 L316.0,122.83 L316.5,122.25 L317.0,121.51 L317.5,120.55 L318.0,119.29 L318.5,117.68 L319.0,115.74 L319.5,113.59 L320.0,111.49 L320.5,109.76 L321.0,108.75 L321.5,108.67 L322.0,109.48 L322.5,111.02 L323.0,113.07 L323.5,115.36 L324.0,117.64 L324.5,119.72 L325.0,121.47 L325.5,122.87 L326.0,123.95 L326.5,124.75 L327.0,125.35 L327.5,125.79 L328.0,126.12 L328.5,126.37 L329.0,126.56 L329.5,126.70 L330.0,126.81 L330.5,126.90 L331.0,126.96 L331.5,127.00 L332.0,127.03 L332.5,127.06 L333.0,127.07 L333.5,127.08 L334.0,127.09 L334.5,127.09 L335.0,127.10 L335.5,127.10 L336.0,127.10 L336.5,127.10 L337.0,127.10 L337.5,127.10 L338.0,127.10 L338.5,127.10 L339.0,127.10 L339.5,127.10 L340.0,127.10 L340.5,127.10 L341.0,127.10 L341.5,127.10 L342.0,127.10 L342.5,127.10 L343.0,127.10 L343.5,127.10 L344.0,127.10 L344.5,127.10 L345.0,127.10 L345.5,127.10 L346.0,127.10 L346.5,127.10 L347.0,127.10 L347.5,127.10 L348.0,127.10 L348.5,127.10 L349.0,127.10 L349.5,127.10 L350.0,127.10 L350.5,127.10 L351.0,127.10 L351.5,127.10 L352.0,127.10 L352.5,127.10 L353.0,127.10 L353.5,127.10 L354.0,127.10 L354.5,127.10 L355.0,127.10 L355.5,127.10 L356.0,127.10 L356.5,127.10 L357.0,127.10 L357.5,127.10 L358.0,127.10 L358.5,127.10 L359.0,127.10 L359.5,127.10 L360.0,127.10 L360.5,127.10 L361.0,127.10 L361.5,127.10 L362.0,127.10 L362.5,127.10 L363.0,127.10 L363.5,127.10 L364.0,127.10 L364.5,127.10 L365.0,127.10 L365.5,127.10 L366.0,127.10 L366.5,127.10 L367.0,127.10 L367.5,127.10 L368.0,127.10 L368.5,127.10 L369.0,127.10 L369.5,127.10 L370.0,127.10 L370.5,127.10 L371.0,127.10" fill="none" stroke="#d78a25" stroke-width="0.8" stroke-linejoin="round"/>
<line x1="321.70" y1="41.00" x2="321.70" y2="128.50" stroke="#555" stroke-width="1" />
<text x="351.00" y="53.10" font-size="8.4" fill="#1a1a1a" stroke="#1a1a1a" stroke-width="0.2" textLength="24.00" lengthAdjust="spacingAndGlyphs" >DMSO</text>
<text x="351.30" y="73.50" font-size="8.4" fill="#1a1a1a" stroke="#1a1a1a" stroke-width="0.2" textLength="21.70" lengthAdjust="spacingAndGlyphs" >15 uM</text>
<text x="351.00" y="94.80" font-size="8.4" fill="#1a1a1a" stroke="#1a1a1a" stroke-width="0.2" textLength="17.29" lengthAdjust="spacingAndGlyphs" >6 uM</text>
<text x="351.00" y="116.10" font-size="8.4" fill="#1a1a1a" stroke="#1a1a1a" stroke-width="0.2" textLength="22.52" lengthAdjust="spacingAndGlyphs" >7.5 uM</text>
<line x1="7.00" y1="63.30" x2="91.60" y2="63.30" stroke="#484848" stroke-width="0.9" />
<line x1="7.00" y1="84.60" x2="91.60" y2="84.60" stroke="#e06a80" stroke-width="0.9" />
<line x1="7.00" y1="105.80" x2="91.60" y2="105.80" stroke="#c47585" stroke-width="0.9" />
<line x1="7.00" y1="127.20" x2="91.60" y2="127.20" stroke="#cc4455" stroke-width="0.9" />
<line x1="99.70" y1="63.40" x2="184.60" y2="63.40" stroke="#484848" stroke-width="0.9" />
<line x1="99.70" y1="84.60" x2="184.60" y2="84.60" stroke="#9a94c0" stroke-width="0.9" />
<line x1="192.70" y1="63.30" x2="278.50" y2="63.30" stroke="#484848" stroke-width="0.9" />
<line x1="192.70" y1="84.30" x2="278.50" y2="84.30" stroke="#7088b0" stroke-width="0.9" />
<line x1="192.70" y1="105.40" x2="278.50" y2="105.40" stroke="#8890a8" stroke-width="0.9" />
<line x1="192.70" y1="127.10" x2="278.50" y2="127.10" stroke="#90a8d0" stroke-width="0.9" />
<line x1="287.00" y1="63.30" x2="371.80" y2="63.30" stroke="#484848" stroke-width="0.9" />
<line x1="287.00" y1="84.30" x2="371.80" y2="84.30" stroke="#f0c878" stroke-width="0.9" />
<line x1="287.00" y1="105.40" x2="371.80" y2="105.40" stroke="#e8c0a8" stroke-width="0.9" />
<line x1="287.00" y1="127.10" x2="371.80" y2="127.10" stroke="#f0b860" stroke-width="0.9" />
<line x1="16.00" y1="127.20" x2="16.00" y2="128.80" stroke="#222" stroke-width="0.6" />
<line x1="18.00" y1="127.20" x2="18.00" y2="128.80" stroke="#222" stroke-width="0.6" />
<line x1="20.00" y1="127.20" x2="20.00" y2="128.80" stroke="#222" stroke-width="0.6" />
<line x1="22.00" y1="127.20" x2="22.00" y2="128.80" stroke="#222" stroke-width="0.6" />
<line x1="24.00" y1="127.20" x2="24.00" y2="128.80" stroke="#222" stroke-width="0.6" />
<line x1="26.00" y1="127.20" x2="26.00" y2="128.80" stroke="#222" stroke-width="0.6" />
<line x1="28.00" y1="127.20" x2="28.00" y2="128.80" stroke="#222" stroke-width="0.6" />
<line x1="37.00" y1="127.20" x2="37.00" y2="128.80" stroke="#222" stroke-width="0.6" />
<line x1="43.00" y1="127.20" x2="43.00" y2="128.80" stroke="#222" stroke-width="0.6" />
<line x1="46.00" y1="127.20" x2="46.00" y2="128.80" stroke="#222" stroke-width="0.6" />
<line x1="48.50" y1="127.20" x2="48.50" y2="128.80" stroke="#222" stroke-width="0.6" />
<line x1="50.30" y1="127.20" x2="50.30" y2="128.80" stroke="#222" stroke-width="0.6" />
<line x1="59.00" y1="127.20" x2="59.00" y2="128.80" stroke="#222" stroke-width="0.6" />
<line x1="65.00" y1="127.20" x2="65.00" y2="128.80" stroke="#222" stroke-width="0.6" />
<line x1="69.00" y1="127.20" x2="69.00" y2="128.80" stroke="#222" stroke-width="0.6" />
<line x1="72.00" y1="127.20" x2="72.00" y2="128.80" stroke="#222" stroke-width="0.6" />
<line x1="74.50" y1="127.20" x2="74.50" y2="128.80" stroke="#222" stroke-width="0.6" />
<line x1="76.30" y1="127.20" x2="76.30" y2="128.80" stroke="#222" stroke-width="0.6" />
<line x1="108.70" y1="84.60" x2="108.70" y2="86.20" stroke="#222" stroke-width="0.6" />
<line x1="110.70" y1="84.60" x2="110.70" y2="86.20" stroke="#222" stroke-width="0.6" />
<line x1="112.70" y1="84.60" x2="112.70" y2="86.20" stroke="#222" stroke-width="0.6" />
<line x1="114.70" y1="84.60" x2="114.70" y2="86.20" stroke="#222" stroke-width="0.6" />
<line x1="116.70" y1="84.60" x2="116.70" y2="86.20" stroke="#222" stroke-width="0.6" />
<line x1="118.70" y1="84.60" x2="118.70" y2="86.20" stroke="#222" stroke-width="0.6" />
<line x1="120.70" y1="84.60" x2="120.70" y2="86.20" stroke="#222" stroke-width="0.6" />
<line x1="129.70" y1="84.60" x2="129.70" y2="86.20" stroke="#222" stroke-width="0.6" />
<line x1="135.70" y1="84.60" x2="135.70" y2="86.20" stroke="#222" stroke-width="0.6" />
<line x1="138.70" y1="84.60" x2="138.70" y2="86.20" stroke="#222" stroke-width="0.6" />
<line x1="141.20" y1="84.60" x2="141.20" y2="86.20" stroke="#222" stroke-width="0.6" />
<line x1="143.00" y1="84.60" x2="143.00" y2="86.20" stroke="#222" stroke-width="0.6" />
<line x1="151.70" y1="84.60" x2="151.70" y2="86.20" stroke="#222" stroke-width="0.6" />
<line x1="157.70" y1="84.60" x2="157.70" y2="86.20" stroke="#222" stroke-width="0.6" />
<line x1="161.70" y1="84.60" x2="161.70" y2="86.20" stroke="#222" stroke-width="0.6" />
<line x1="164.70" y1="84.60" x2="164.70" y2="86.20" stroke="#222" stroke-width="0.6" />
<line x1="167.20" y1="84.60" x2="167.20" y2="86.20" stroke="#222" stroke-width="0.6" />
<line x1="169.00" y1="84.60" x2="169.00" y2="86.20" stroke="#222" stroke-width="0.6" />
<line x1="201.70" y1="127.10" x2="201.70" y2="128.70" stroke="#222" stroke-width="0.6" />
<line x1="203.70" y1="127.10" x2="203.70" y2="128.70" stroke="#222" stroke-width="0.6" />
<line x1="205.70" y1="127.10" x2="205.70" y2="128.70" stroke="#222" stroke-width="0.6" />
<line x1="207.70" y1="127.10" x2="207.70" y2="128.70" stroke="#222" stroke-width="0.6" />
<line x1="209.70" y1="127.10" x2="209.70" y2="128.70" stroke="#222" stroke-width="0.6" />
<line x1="211.70" y1="127.10" x2="211.70" y2="128.70" stroke="#222" stroke-width="0.6" />
<line x1="213.70" y1="127.10" x2="213.70" y2="128.70" stroke="#222" stroke-width="0.6" />
<line x1="222.70" y1="127.10" x2="222.70" y2="128.70" stroke="#222" stroke-width="0.6" />
<line x1="228.70" y1="127.10" x2="228.70" y2="128.70" stroke="#222" stroke-width="0.6" />
<line x1="231.70" y1="127.10" x2="231.70" y2="128.70" stroke="#222" stroke-width="0.6" />
<line x1="234.20" y1="127.10" x2="234.20" y2="128.70" stroke="#222" stroke-width="0.6" />
<line x1="236.00" y1="127.10" x2="236.00" y2="128.70" stroke="#222" stroke-width="0.6" />
<line x1="244.70" y1="127.10" x2="244.70" y2="128.70" stroke="#222" stroke-width="0.6" />
<line x1="250.70" y1="127.10" x2="250.70" y2="128.70" stroke="#222" stroke-width="0.6" />
<line x1="254.70" y1="127.10" x2="254.70" y2="128.70" stroke="#222" stroke-width="0.6" />
<line x1="257.70" y1="127.10" x2="257.70" y2="128.70" stroke="#222" stroke-width="0.6" />
<line x1="260.20" y1="127.10" x2="260.20" y2="128.70" stroke="#222" stroke-width="0.6" />
<line x1="262.00" y1="127.10" x2="262.00" y2="128.70" stroke="#222" stroke-width="0.6" />
<line x1="296.50" y1="127.10" x2="296.50" y2="128.70" stroke="#222" stroke-width="0.6" />
<line x1="298.50" y1="127.10" x2="298.50" y2="128.70" stroke="#222" stroke-width="0.6" />
<line x1="300.50" y1="127.10" x2="300.50" y2="128.70" stroke="#222" stroke-width="0.6" />
<line x1="302.50" y1="127.10" x2="302.50" y2="128.70" stroke="#222" stroke-width="0.6" />
<line x1="304.50" y1="127.10" x2="304.50" y2="128.70" stroke="#222" stroke-width="0.6" />
<line x1="306.50" y1="127.10" x2="306.50" y2="128.70" stroke="#222" stroke-width="0.6" />
<line x1="308.50" y1="127.10" x2="308.50" y2="128.70" stroke="#222" stroke-width="0.6" />
<line x1="317.50" y1="127.10" x2="317.50" y2="128.70" stroke="#222" stroke-width="0.6" />
<line x1="323.50" y1="127.10" x2="323.50" y2="128.70" stroke="#222" stroke-width="0.6" />
<line x1="326.50" y1="127.10" x2="326.50" y2="128.70" stroke="#222" stroke-width="0.6" />
<line x1="329.00" y1="127.10" x2="329.00" y2="128.70" stroke="#222" stroke-width="0.6" />
<line x1="330.80" y1="127.10" x2="330.80" y2="128.70" stroke="#222" stroke-width="0.6" />
<line x1="339.50" y1="127.10" x2="339.50" y2="128.70" stroke="#222" stroke-width="0.6" />
<line x1="345.50" y1="127.10" x2="345.50" y2="128.70" stroke="#222" stroke-width="0.6" />
<line x1="349.50" y1="127.10" x2="349.50" y2="128.70" stroke="#222" stroke-width="0.6" />
<line x1="352.50" y1="127.10" x2="352.50" y2="128.70" stroke="#222" stroke-width="0.6" />
<line x1="355.00" y1="127.10" x2="355.00" y2="128.70" stroke="#222" stroke-width="0.6" />
<line x1="356.80" y1="127.10" x2="356.80" y2="128.70" stroke="#222" stroke-width="0.6" />
<text x="19.70" y="139.80" font-size="7.3" fill="#1a1a1a" stroke="#1a1a1a" stroke-width="0.4" textLength="3.81" lengthAdjust="spacingAndGlyphs" >0</text>
<text x="49.90" y="139.80" font-size="7.3" fill="#1a1a1a" stroke="#1a1a1a" stroke-width="0.4" textLength="7.42" lengthAdjust="spacingAndGlyphs" >10</text>
<text x="57.60" y="136.40" font-size="5.6" fill="#1a1a1a" stroke="#1a1a1a" stroke-width="0.3" textLength="2.71" lengthAdjust="spacingAndGlyphs" >3</text>
<text x="76.20" y="139.80" font-size="7.3" fill="#1a1a1a" stroke="#1a1a1a" stroke-width="0.4" textLength="7.42" lengthAdjust="spacingAndGlyphs" >10</text>
<text x="83.90" y="136.40" font-size="5.6" fill="#1a1a1a" stroke="#1a1a1a" stroke-width="0.3" textLength="3.11" lengthAdjust="spacingAndGlyphs" >4</text>
<text x="112.90" y="98.00" font-size="7.3" fill="#1a1a1a" stroke="#1a1a1a" stroke-width="0.4" textLength="3.81" lengthAdjust="spacingAndGlyphs" >0</text>
<text x="143.50" y="98.00" font-size="7.3" fill="#1a1a1a" stroke="#1a1a1a" stroke-width="0.4" textLength="7.42" lengthAdjust="spacingAndGlyphs" >10</text>
<text x="151.20" y="94.60" font-size="5.6" fill="#1a1a1a" stroke="#1a1a1a" stroke-width="0.3" textLength="2.71" lengthAdjust="spacingAndGlyphs" >3</text>
<text x="169.10" y="98.00" font-size="7.3" fill="#1a1a1a" stroke="#1a1a1a" stroke-width="0.4" textLength="7.42" lengthAdjust="spacingAndGlyphs" >10</text>
<text x="176.80" y="94.60" font-size="5.6" fill="#1a1a1a" stroke="#1a1a1a" stroke-width="0.3" textLength="3.11" lengthAdjust="spacingAndGlyphs" >4</text>
<text x="205.80" y="140.00" font-size="7.3" fill="#1a1a1a" stroke="#1a1a1a" stroke-width="0.4" textLength="3.81" lengthAdjust="spacingAndGlyphs" >0</text>
<text x="235.80" y="140.00" font-size="7.3" fill="#1a1a1a" stroke="#1a1a1a" stroke-width="0.4" textLength="7.42" lengthAdjust="spacingAndGlyphs" >10</text>
<text x="243.50" y="136.60" font-size="5.6" fill="#1a1a1a" stroke="#1a1a1a" stroke-width="0.3" textLength="2.71" lengthAdjust="spacingAndGlyphs" >3</text>
<text x="261.50" y="140.00" font-size="7.3" fill="#1a1a1a" stroke="#1a1a1a" stroke-width="0.4" textLength="7.42" lengthAdjust="spacingAndGlyphs" >10</text>
<text x="269.20" y="136.60" font-size="5.6" fill="#1a1a1a" stroke="#1a1a1a" stroke-width="0.3" textLength="3.11" lengthAdjust="spacingAndGlyphs" >4</text>
<text x="299.60" y="140.00" font-size="7.3" fill="#1a1a1a" stroke="#1a1a1a" stroke-width="0.4" textLength="3.81" lengthAdjust="spacingAndGlyphs" >0</text>
<text x="330.20" y="140.00" font-size="7.3" fill="#1a1a1a" stroke="#1a1a1a" stroke-width="0.4" textLength="7.42" lengthAdjust="spacingAndGlyphs" >10</text>
<text x="337.90" y="136.60" font-size="5.6" fill="#1a1a1a" stroke="#1a1a1a" stroke-width="0.3" textLength="2.71" lengthAdjust="spacingAndGlyphs" >3</text>
<text x="356.30" y="140.00" font-size="7.3" fill="#1a1a1a" stroke="#1a1a1a" stroke-width="0.4" textLength="7.42" lengthAdjust="spacingAndGlyphs" >10</text>
<text x="364.00" y="136.60" font-size="5.6" fill="#1a1a1a" stroke="#1a1a1a" stroke-width="0.3" textLength="3.11" lengthAdjust="spacingAndGlyphs" >4</text>
<line x1="104.90" y1="84.60" x2="122.20" y2="84.60" stroke="#222" stroke-width="1.6" />
<line x1="9.00" y1="127.20" x2="28.00" y2="127.20" stroke="#5a1020" stroke-width="1.2" />
<line x1="199.00" y1="127.10" x2="215.00" y2="127.10" stroke="#1a2a50" stroke-width="1.2" />
<line x1="292.00" y1="127.10" x2="305.00" y2="127.10" stroke="#4a3010" stroke-width="1.2" />
<text x="39.90" y="152.50" font-size="8.5" fill="#1a1a1a" font-weight="bold" stroke="#1a1a1a" stroke-width="0.15" textLength="18.21" lengthAdjust="spacingAndGlyphs" >H2Aub</text>
<text x="133.40" y="109.70" font-size="8.5" fill="#1a1a1a" font-weight="bold" stroke="#1a1a1a" stroke-width="0.15" textLength="18.21" lengthAdjust="spacingAndGlyphs" >H2Aub</text>
<text x="226.20" y="152.60" font-size="8.5" fill="#1a1a1a" font-weight="bold" stroke="#1a1a1a" stroke-width="0.15" textLength="18.21" lengthAdjust="spacingAndGlyphs" >H2Aub</text>
<text x="320.00" y="152.60" font-size="8.5" fill="#1a1a1a" font-weight="bold" stroke="#1a1a1a" stroke-width="0.15" textLength="18.21" lengthAdjust="spacingAndGlyphs" >H2Aub</text>
<line x1="432.60" y1="24.00" x2="432.60" y2="126.70" stroke="#1a1a1a" stroke-width="1" />
<line x1="432.10" y1="126.70" x2="509.50" y2="126.70" stroke="#1a1a1a" stroke-width="1" />
<line x1="429.30" y1="27.10" x2="432.60" y2="27.10" stroke="#1a1a1a" stroke-width="1" />
<text x="416.00" y="29.40" font-size="7.6" fill="#1a1a1a" stroke="#1a1a1a" stroke-width="0.2" textLength="10.20" lengthAdjust="spacingAndGlyphs" >1.2</text>
<line x1="429.30" y1="43.70" x2="432.60" y2="43.70" stroke="#1a1a1a" stroke-width="1" />
<text x="416.00" y="46.00" font-size="7.6" fill="#1a1a1a" stroke="#1a1a1a" stroke-width="0.2" textLength="10.20" lengthAdjust="spacingAndGlyphs" >1.0</text>
<line x1="429.30" y1="60.30" x2="432.60" y2="60.30" stroke="#1a1a1a" stroke-width="1" />
<text x="416.00" y="62.60" font-size="7.6" fill="#1a1a1a" stroke="#1a1a1a" stroke-width="0.2" textLength="10.20" lengthAdjust="spacingAndGlyphs" >0.8</text>
<line x1="429.30" y1="76.90" x2="432.60" y2="76.90" stroke="#1a1a1a" stroke-width="1" />
<text x="416.00" y="79.20" font-size="7.6" fill="#1a1a1a" stroke="#1a1a1a" stroke-width="0.2" textLength="10.20" lengthAdjust="spacingAndGlyphs" >0.6</text>
<line x1="429.30" y1="93.50" x2="432.60" y2="93.50" stroke="#1a1a1a" stroke-width="1" />
<text x="416.00" y="95.80" font-size="7.6" fill="#1a1a1a" stroke="#1a1a1a" stroke-width="0.2" textLength="10.20" lengthAdjust="spacingAndGlyphs" >0.4</text>
<line x1="429.30" y1="110.10" x2="432.60" y2="110.10" stroke="#1a1a1a" stroke-width="1" />
<text x="416.00" y="112.40" font-size="7.6" fill="#1a1a1a" stroke="#1a1a1a" stroke-width="0.2" textLength="10.20" lengthAdjust="spacingAndGlyphs" >0.2</text>
<line x1="429.30" y1="126.70" x2="432.60" y2="126.70" stroke="#1a1a1a" stroke-width="1" />
<text x="416.00" y="129.00" font-size="7.6" fill="#1a1a1a" stroke="#1a1a1a" stroke-width="0.2" textLength="10.20" lengthAdjust="spacingAndGlyphs" >0.2</text>
<rect x="438.50" y="42.10" width="11.30" height="84.60" fill="#161616"/>
<rect x="452.00" y="73.30" width="11.00" height="53.40" fill="#e5877c"/>
<rect x="465.00" y="58.00" width="11.00" height="68.70" fill="#c5c1e6"/>
<rect x="478.00" y="66.60" width="11.00" height="60.10" fill="#8a9cc6"/>
<rect x="490.80" y="42.60" width="11.20" height="84.10" fill="#f9c689"/>
<rect x="438.50" y="42.10" width="11.30" height="3.20" fill="#9a9a9a"/>
<line x1="457.50" y1="73.30" x2="457.50" y2="66.30" stroke="#c20c2e" stroke-width="1" />
<line x1="454.30" y1="66.30" x2="460.70" y2="66.30" stroke="#c20c2e" stroke-width="1" />
<line x1="470.50" y1="58.00" x2="470.50" y2="53.90" stroke="#9a8ecb" stroke-width="1" />
<line x1="467.30" y1="53.90" x2="473.70" y2="53.90" stroke="#9a8ecb" stroke-width="1" />
<line x1="483.50" y1="66.60" x2="483.50" y2="62.00" stroke="#1d4a86" stroke-width="1" />
<line x1="480.30" y1="62.00" x2="486.70" y2="62.00" stroke="#1d4a86" stroke-width="1" />
<line x1="496.40" y1="42.60" x2="496.40" y2="33.60" stroke="#e0a040" stroke-width="1" />
<line x1="493.20" y1="33.60" x2="499.60" y2="33.60" stroke="#e0a040" stroke-width="1" />
<circle cx="453.00" cy="62.70" r="1.60" fill="#c20c2e" stroke="#8e0a24" stroke-width="0.5"/>
<circle cx="461.80" cy="60.70" r="1.60" fill="#c20c2e" stroke="#8e0a24" stroke-width="0.5"/>
<circle cx="457.60" cy="81.60" r="1.60" fill="#c20c2e" stroke="#8e0a24" stroke-width="0.5"/>
<circle cx="457.60" cy="87.00" r="1.60" fill="#c20c2e" stroke="#8e0a24" stroke-width="0.5"/>
<circle cx="470.20" cy="44.10" r="1.50" fill="#9a8ecb" stroke="#857ab8" stroke-width="0.5"/>
<circle cx="466.10" cy="58.40" r="1.50" fill="#9a8ecb" stroke="#857ab8" stroke-width="0.5"/>
<circle cx="475.00" cy="58.00" r="1.50" fill="#9a8ecb" stroke="#857ab8" stroke-width="0.5"/>
<circle cx="470.20" cy="61.20" r="1.50" fill="#9a8ecb" stroke="#857ab8" stroke-width="0.5"/>
<circle cx="470.20" cy="70.00" r="1.50" fill="#9a8ecb" stroke="#857ab8" stroke-width="0.5"/>
<circle cx="483.50" cy="60.40" r="1.50" fill="#1d4a86" stroke="#12346a" stroke-width="0.5"/>
<circle cx="483.50" cy="65.00" r="1.50" fill="#1d4a86" stroke="#12346a" stroke-width="0.5"/>
<circle cx="483.50" cy="73.10" r="1.50" fill="#1d4a86" stroke="#12346a" stroke-width="0.5"/>
<circle cx="492.00" cy="51.60" r="1.50" fill="#e0a040" stroke="#c88a30" stroke-width="0.5"/>
<circle cx="501.00" cy="50.30" r="1.50" fill="#e0a040" stroke="#c88a30" stroke-width="0.5"/>
<circle cx="496.40" cy="25.00" r="1.50" fill="#e0a040" stroke="#c88a30" stroke-width="0.5"/>
<circle cx="457.40" cy="46.70" r="1.05" fill="#2a2a2a"/>
<circle cx="470.20" cy="30.60" r="1.05" fill="#2a2a2a"/>
<circle cx="483.50" cy="44.10" r="1.05" fill="#2a2a2a"/>
<line x1="444.00" y1="126.70" x2="444.00" y2="129.50" stroke="#1a1a1a" stroke-width="1" />
<line x1="457.00" y1="126.70" x2="457.00" y2="129.50" stroke="#1a1a1a" stroke-width="1" />
<line x1="470.40" y1="126.70" x2="470.40" y2="129.50" stroke="#1a1a1a" stroke-width="1" />
<line x1="483.00" y1="126.70" x2="483.00" y2="129.50" stroke="#1a1a1a" stroke-width="1" />
<line x1="496.00" y1="126.70" x2="496.00" y2="129.50" stroke="#1a1a1a" stroke-width="1" />
<text x="0" y="0" font-size="7.8" fill="#1a1a1a" stroke="#1a1a1a" stroke-width="0.2" text-anchor="end" transform="translate(447.40 136.20) rotate(-45)">DMSO</text>
<text x="0" y="0" font-size="7.8" fill="#1a1a1a" stroke="#1a1a1a" stroke-width="0.2" text-anchor="end" transform="translate(460.40 136.20) rotate(-45)">15 uM MS452</text>
<text x="0" y="0" font-size="7.8" fill="#1a1a1a" stroke="#1a1a1a" stroke-width="0.2" text-anchor="end" transform="translate(473.80 136.20) rotate(-45)">32 uM EC-134</text>
<text x="0" y="0" font-size="7.8" fill="#1a1a1a" stroke="#1a1a1a" stroke-width="0.2" text-anchor="end" transform="translate(486.40 136.20) rotate(-45)">10 uM BDA-41</text>
<text x="0" y="0" font-size="7.8" fill="#1a1a1a" stroke="#1a1a1a" stroke-width="0.2" text-anchor="end" transform="translate(499.40 136.20) rotate(-45)">6 uM UNC0642</text>
<text x="360.10" y="78.23" font-size="8" fill="#1a1a1a" font-weight="bold" textLength="71.00" lengthAdjust="spacingAndGlyphs" transform="rotate(-90 395.60 75.40)">MFI H2Aub normalized to</text>
<text x="387.05" y="77.83" font-size="8" fill="#1a1a1a" font-weight="bold" textLength="38.51" lengthAdjust="spacingAndGlyphs" transform="rotate(-90 406.30 75.00)">DMSO control</text>
<line x1="48.70" y1="222.00" x2="48.70" y2="315.40" stroke="#1a1a1a" stroke-width="1" />
<line x1="48.20" y1="315.40" x2="154.60" y2="315.40" stroke="#1a1a1a" stroke-width="1" />
<line x1="45.10" y1="225.40" x2="48.70" y2="225.40" stroke="#1a1a1a" stroke-width="1" />
<text x="33.00" y="227.70" font-size="7.6" fill="#1a1a1a" stroke="#1a1a1a" stroke-width="0.2" textLength="10.00" lengthAdjust="spacingAndGlyphs" >1.0</text>
<line x1="45.10" y1="243.40" x2="48.70" y2="243.40" stroke="#1a1a1a" stroke-width="1" />
<text x="33.00" y="245.70" font-size="7.6" fill="#1a1a1a" stroke="#1a1a1a" stroke-width="0.2" textLength="10.00" lengthAdjust="spacingAndGlyphs" >0.8</text>
<line x1="45.10" y1="261.40" x2="48.70" y2="261.40" stroke="#1a1a1a" stroke-width="1" />
<text x="33.00" y="263.70" font-size="7.6" fill="#1a1a1a" stroke="#1a1a1a" stroke-width="0.2" textLength="10.00" lengthAdjust="spacingAndGlyphs" >0.6</text>
<line x1="45.10" y1="279.40" x2="48.70" y2="279.40" stroke="#1a1a1a" stroke-width="1" />
<text x="33.00" y="281.70" font-size="7.6" fill="#1a1a1a" stroke="#1a1a1a" stroke-width="0.2" textLength="10.00" lengthAdjust="spacingAndGlyphs" >0.4</text>
<line x1="45.10" y1="297.40" x2="48.70" y2="297.40" stroke="#1a1a1a" stroke-width="1" />
<text x="33.00" y="299.70" font-size="7.6" fill="#1a1a1a" stroke="#1a1a1a" stroke-width="0.2" textLength="10.00" lengthAdjust="spacingAndGlyphs" >0.2</text>
<line x1="45.10" y1="315.40" x2="48.70" y2="315.40" stroke="#1a1a1a" stroke-width="1" />
<text x="33.00" y="317.70" font-size="7.6" fill="#1a1a1a" stroke="#1a1a1a" stroke-width="0.2" textLength="10.00" lengthAdjust="spacingAndGlyphs" >0.0</text>
<text x="54.20" y="216.30" font-size="9.3" fill="#1a1a1a" stroke="#1a1a1a" stroke-width="0.12" textLength="94.81" lengthAdjust="spacingAndGlyphs" >CELL CYCLE ARREST</text>
<rect x="54.00" y="223.50" width="9.80" height="91.90" fill="#161616"/>
<rect x="54.00" y="223.50" width="9.80" height="3.30" fill="#9a9a9a"/>
<rect x="66.50" y="257.60" width="9.50" height="57.80" fill="#e5877c"/>
<rect x="79.10" y="258.10" width="9.90" height="57.30" fill="#c5c1e6"/>
<rect x="91.50" y="271.60" width="9.30" height="43.80" fill="#8a9cc6"/>
<line x1="71.70" y1="257.60" x2="71.70" y2="252.70" stroke="#c20c2e" stroke-width="1" />
<line x1="68.90" y1="252.70" x2="74.50" y2="252.70" stroke="#c20c2e" stroke-width="1" />
<line x1="84.10" y1="258.10" x2="84.10" y2="239.00" stroke="#9a8ecb" stroke-width="1" />
<line x1="81.30" y1="239.00" x2="86.90" y2="239.00" stroke="#9a8ecb" stroke-width="1" />
<line x1="96.20" y1="271.60" x2="96.20" y2="260.40" stroke="#1d4a86" stroke-width="1" />
<line x1="93.40" y1="260.40" x2="99.00" y2="260.40" stroke="#1d4a86" stroke-width="1" />
<circle cx="68.00" cy="243.70" r="1.90" fill="#c20c2e" stroke="#8e0a24" stroke-width="0.5"/>
<circle cx="74.90" cy="245.20" r="1.90" fill="#c20c2e" stroke="#8e0a24" stroke-width="0.5"/>
<circle cx="71.70" cy="255.80" r="1.90" fill="#c20c2e" stroke="#8e0a24" stroke-width="0.5"/>
<circle cx="68.00" cy="264.30" r="1.90" fill="#c20c2e" stroke="#8e0a24" stroke-width="0.5"/>
<circle cx="74.90" cy="265.90" r="1.90" fill="#c20c2e" stroke="#8e0a24" stroke-width="0.5"/>
<circle cx="68.00" cy="269.00" r="1.90" fill="#c20c2e" stroke="#8e0a24" stroke-width="0.5"/>
<circle cx="84.10" cy="225.50" r="1.90" fill="#9a8ecb" stroke="#857ab8" stroke-width="0.5"/>
<circle cx="84.10" cy="258.70" r="1.90" fill="#9a8ecb" stroke="#857ab8" stroke-width="0.5"/>
<circle cx="84.10" cy="287.90" r="1.90" fill="#9a8ecb" stroke="#857ab8" stroke-width="0.5"/>
<circle cx="96.20" cy="241.70" r="1.90" fill="#1d4a86" stroke="#12346a" stroke-width="0.5"/>
<circle cx="96.20" cy="267.00" r="1.90" fill="#1d4a86" stroke="#12346a" stroke-width="0.5"/>
<circle cx="93.00" cy="270.50" r="1.90" fill="#1d4a86" stroke="#12346a" stroke-width="0.5"/>
<circle cx="99.60" cy="270.50" r="1.90" fill="#1d4a86" stroke="#12346a" stroke-width="0.5"/>
<circle cx="96.20" cy="294.80" r="1.90" fill="#1d4a86" stroke="#12346a" stroke-width="0.5"/>
<circle cx="71.70" cy="225.90" r="1.05" fill="#2a2a2a"/>
<circle cx="96.50" cy="225.90" r="1.05" fill="#2a2a2a"/>
<rect x="114.20" y="225.50" width="9.80" height="89.90" fill="#161616"/>
<circle cx="119.00" cy="225.10" r="2.1" fill="#9a9a9a"/>
<rect x="126.50" y="292.30" width="9.70" height="23.10" fill="#e5877c"/>
<circle cx="131.30" cy="291.80" r="1.90" fill="#c20c2e" stroke="#8e0a24" stroke-width="0.5"/>
<rect x="139.20" y="280.50" width="9.40" height="34.90" fill="#8a9cc6"/>
<circle cx="143.80" cy="280.00" r="1.90" fill="#1d4a86" stroke="#12346a" stroke-width="0.5"/>
<line x1="77.70" y1="315.40" x2="77.70" y2="318.50" stroke="#1a1a1a" stroke-width="1" />
<line x1="131.50" y1="315.40" x2="131.50" y2="318.50" stroke="#1a1a1a" stroke-width="1" />
<text x="71.50" y="328.60" font-size="8" fill="#1a1a1a" stroke="#1a1a1a" stroke-width="0.2" textLength="11.50" lengthAdjust="spacingAndGlyphs" >P21</text>
<text x="59.20" y="337.00" font-size="8" fill="#1a1a1a" stroke="#1a1a1a" stroke-width="0.2" textLength="36.98" lengthAdjust="spacingAndGlyphs" >(CDKN1A)</text>
<text x="124.60" y="328.40" font-size="8" fill="#1a1a1a" stroke="#1a1a1a" stroke-width="0.2" textLength="13.60" lengthAdjust="spacingAndGlyphs" >P16</text>
<text x="117.70" y="337.00" font-size="8" fill="#1a1a1a" stroke="#1a1a1a" stroke-width="0.2" textLength="27.71" lengthAdjust="spacingAndGlyphs" >(INK4A)</text>
<text x="161.00" y="248.80" font-size="7.9" fill="#1a1a1a" stroke="#1a1a1a" stroke-width="0.2" textLength="43.80" lengthAdjust="spacingAndGlyphs" >24h treatment</text>
<rect x="160.40" y="254.60" width="6.10" height="6.00" fill="#161616"/>
<text x="169.80" y="259.90" font-size="7.8" fill="#1a1a1a" stroke="#1a1a1a" stroke-width="0.2" textLength="22.50" lengthAdjust="spacingAndGlyphs" >DMSO</text>
<rect x="160.40" y="265.70" width="6.10" height="6.20" fill="#c20c2e"/>
<text x="169.80" y="271.20" font-size="7.8" fill="#1a1a1a" stroke="#1a1a1a" stroke-width="0.2" textLength="50.41" lengthAdjust="spacingAndGlyphs" >100 uM MS452</text>
<rect x="160.40" y="276.80" width="6.10" height="6.20" fill="#9a8ecb"/>
<text x="169.80" y="282.30" font-size="7.8" fill="#1a1a1a" stroke="#1a1a1a" stroke-width="0.2" textLength="51.69" lengthAdjust="spacingAndGlyphs" >100 uM EC-134</text>
<rect x="160.40" y="288.20" width="6.10" height="6.10" fill="#1d4a86"/>
<text x="169.80" y="293.60" font-size="7.8" fill="#1a1a1a" stroke="#1a1a1a" stroke-width="0.2" textLength="47.89" lengthAdjust="spacingAndGlyphs" >35 uM BDA-41</text>
<text x="-6.90" y="269.78" font-size="7.8" fill="#1a1a1a" font-weight="bold" textLength="37.40" lengthAdjust="spacingAndGlyphs" transform="rotate(-90 11.80 267.80)">CBX7 binding</text>
<text x="-19.80" y="270.88" font-size="7.8" fill="#1a1a1a" font-weight="bold" textLength="85.41" lengthAdjust="spacingAndGlyphs" transform="rotate(-90 22.90 268.90)">(normalized to DMSO control)</text>
<line x1="279.20" y1="222.00" x2="279.20" y2="315.20" stroke="#1a1a1a" stroke-width="1" />
<line x1="278.70" y1="315.20" x2="447.50" y2="315.20" stroke="#1a1a1a" stroke-width="1" />
<line x1="275.60" y1="225.20" x2="279.20" y2="225.20" stroke="#1a1a1a" stroke-width="1" />
<text x="263.20" y="227.50" font-size="7.6" fill="#1a1a1a" stroke="#1a1a1a" stroke-width="0.2" textLength="10.00" lengthAdjust="spacingAndGlyphs" >1.0</text>
<line x1="275.60" y1="243.20" x2="279.20" y2="243.20" stroke="#1a1a1a" stroke-width="1" />
<text x="263.20" y="245.50" font-size="7.6" fill="#1a1a1a" stroke="#1a1a1a" stroke-width="0.2" textLength="10.00" lengthAdjust="spacingAndGlyphs" >0.8</text>
<line x1="275.60" y1="261.20" x2="279.20" y2="261.20" stroke="#1a1a1a" stroke-width="1" />
<text x="263.20" y="263.50" font-size="7.6" fill="#1a1a1a" stroke="#1a1a1a" stroke-width="0.2" textLength="10.00" lengthAdjust="spacingAndGlyphs" >0.6</text>
<line x1="275.60" y1="279.20" x2="279.20" y2="279.20" stroke="#1a1a1a" stroke-width="1" />
<text x="263.20" y="281.50" font-size="7.6" fill="#1a1a1a" stroke="#1a1a1a" stroke-width="0.2" textLength="10.00" lengthAdjust="spacingAndGlyphs" >0.4</text>
<line x1="275.60" y1="297.20" x2="279.20" y2="297.20" stroke="#1a1a1a" stroke-width="1" />
<text x="263.20" y="299.50" font-size="7.6" fill="#1a1a1a" stroke="#1a1a1a" stroke-width="0.2" textLength="10.00" lengthAdjust="spacingAndGlyphs" >0.2</text>
<line x1="275.60" y1="315.20" x2="279.20" y2="315.20" stroke="#1a1a1a" stroke-width="1" />
<text x="263.20" y="317.50" font-size="7.6" fill="#1a1a1a" stroke="#1a1a1a" stroke-width="0.2" textLength="10.00" lengthAdjust="spacingAndGlyphs" >0.0</text>
<text x="323.60" y="215.60" font-size="9.1" fill="#1a1a1a" stroke="#1a1a1a" stroke-width="0.12" textLength="79.80" lengthAdjust="spacingAndGlyphs" >DIFFERENTIATION</text>
<rect x="285.50" y="223.40" width="11.50" height="91.80" fill="#161616"/>
<rect x="300.70" y="250.10" width="11.90" height="65.10" fill="#e5877c"/>
<line x1="298.80" y1="315.20" x2="298.80" y2="318.30" stroke="#1a1a1a" stroke-width="1" />
<rect x="328.30" y="223.40" width="11.20" height="91.80" fill="#161616"/>
<rect x="342.90" y="245.20" width="12.10" height="70.00" fill="#e5877c"/>
<line x1="341.00" y1="315.20" x2="341.00" y2="318.30" stroke="#1a1a1a" stroke-width="1" />
<rect x="370.50" y="223.40" width="11.50" height="91.80" fill="#161616"/>
<rect x="386.10" y="253.80" width="11.50" height="61.40" fill="#e5877c"/>
<line x1="384.20" y1="315.20" x2="384.20" y2="318.30" stroke="#1a1a1a" stroke-width="1" />
<rect x="413.30" y="223.40" width="11.30" height="91.80" fill="#161616"/>
<rect x="428.20" y="259.60" width="11.80" height="55.60" fill="#e5877c"/>
<line x1="426.40" y1="315.20" x2="426.40" y2="318.30" stroke="#1a1a1a" stroke-width="1" />
<circle cx="287.40" cy="225.00" r="1.7" fill="#9a9a9a"/>
<circle cx="289.97" cy="225.00" r="1.7" fill="#9a9a9a"/>
<circle cx="292.53" cy="225.00" r="1.7" fill="#9a9a9a"/>
<circle cx="295.10" cy="225.00" r="1.7" fill="#9a9a9a"/>
<circle cx="330.20" cy="225.00" r="1.7" fill="#9a9a9a"/>
<circle cx="333.90" cy="225.00" r="1.7" fill="#9a9a9a"/>
<circle cx="337.60" cy="225.00" r="1.7" fill="#9a9a9a"/>
<circle cx="372.40" cy="225.00" r="1.7" fill="#9a9a9a"/>
<circle cx="376.25" cy="225.00" r="1.7" fill="#9a9a9a"/>
<circle cx="380.10" cy="225.00" r="1.7" fill="#9a9a9a"/>
<rect x="413.30" y="223.20" width="11.30" height="2.80" fill="#9a9a9a"/>
<line x1="306.50" y1="250.10" x2="306.50" y2="245.80" stroke="#c20c2e" stroke-width="1" />
<line x1="303.70" y1="245.80" x2="309.30" y2="245.80" stroke="#c20c2e" stroke-width="1" />
<line x1="349.00" y1="245.20" x2="349.00" y2="240.40" stroke="#c20c2e" stroke-width="1" />
<line x1="346.20" y1="240.40" x2="351.80" y2="240.40" stroke="#c20c2e" stroke-width="1" />
<line x1="391.50" y1="253.80" x2="391.50" y2="240.40" stroke="#c20c2e" stroke-width="1" />
<line x1="388.70" y1="240.40" x2="394.30" y2="240.40" stroke="#c20c2e" stroke-width="1" />
<line x1="434.20" y1="259.60" x2="434.20" y2="252.00" stroke="#c20c2e" stroke-width="1" />
<line x1="431.40" y1="252.00" x2="437.00" y2="252.00" stroke="#c20c2e" stroke-width="1" />
<circle cx="306.50" cy="241.60" r="1.90" fill="#c20c2e" stroke="#8e0a24" stroke-width="0.5"/>
<circle cx="306.50" cy="246.70" r="1.90" fill="#c20c2e" stroke="#8e0a24" stroke-width="0.5"/>
<circle cx="302.20" cy="258.20" r="1.90" fill="#c20c2e" stroke="#8e0a24" stroke-width="0.5"/>
<circle cx="310.90" cy="255.50" r="1.90" fill="#c20c2e" stroke="#8e0a24" stroke-width="0.5"/>
<circle cx="349.00" cy="237.00" r="1.90" fill="#c20c2e" stroke="#8e0a24" stroke-width="0.5"/>
<circle cx="345.00" cy="249.40" r="1.90" fill="#c20c2e" stroke="#8e0a24" stroke-width="0.5"/>
<circle cx="353.50" cy="246.90" r="1.90" fill="#c20c2e" stroke="#8e0a24" stroke-width="0.5"/>
<circle cx="391.50" cy="236.00" r="1.90" fill="#c20c2e" stroke="#8e0a24" stroke-width="0.5"/>
<circle cx="391.50" cy="246.50" r="1.90" fill="#c20c2e" stroke="#8e0a24" stroke-width="0.5"/>
<circle cx="391.50" cy="278.30" r="1.90" fill="#c20c2e" stroke="#8e0a24" stroke-width="0.5"/>
<circle cx="434.20" cy="243.90" r="1.90" fill="#c20c2e" stroke="#8e0a24" stroke-width="0.5"/>
<circle cx="434.20" cy="248.50" r="1.90" fill="#c20c2e" stroke="#8e0a24" stroke-width="0.5"/>
<circle cx="434.20" cy="252.00" r="1.90" fill="#c20c2e" stroke="#8e0a24" stroke-width="0.5"/>
<circle cx="434.20" cy="271.60" r="1.90" fill="#c20c2e" stroke="#8e0a24" stroke-width="0.5"/>
<circle cx="434.20" cy="280.80" r="1.90" fill="#c20c2e" stroke="#8e0a24" stroke-width="0.5"/>
<circle cx="306.50" cy="229.20" r="1.05" fill="#2a2a2a"/>
<circle cx="349.00" cy="223.80" r="1.05" fill="#2a2a2a"/>
<circle cx="434.20" cy="232.30" r="1.05" fill="#2a2a2a"/>
<text x="292.70" y="328.20" font-size="8.2" fill="#1a1a1a" stroke="#1a1a1a" stroke-width="0.2" textLength="12.51" lengthAdjust="spacingAndGlyphs" >ID2</text>
<text x="333.70" y="328.20" font-size="8.2" fill="#1a1a1a" stroke="#1a1a1a" stroke-width="0.2" textLength="15.71" lengthAdjust="spacingAndGlyphs" >IRF4</text>
<text x="373.50" y="328.20" font-size="8.2" fill="#1a1a1a" stroke="#1a1a1a" stroke-width="0.2" textLength="21.08" lengthAdjust="spacingAndGlyphs" >MAFB</text>
<text x="415.80" y="328.20" font-size="8.2" fill="#1a1a1a" stroke="#1a1a1a" stroke-width="0.2" textLength="21.11" lengthAdjust="spacingAndGlyphs" >CD14</text>
<text x="454.00" y="259.90" font-size="7.9" fill="#1a1a1a" stroke="#1a1a1a" stroke-width="0.2" textLength="43.40" lengthAdjust="spacingAndGlyphs" >24h treatment</text>
<rect x="453.40" y="265.60" width="6.10" height="5.70" fill="#161616"/>
<text x="462.40" y="270.60" font-size="7.8" fill="#1a1a1a" stroke="#1a1a1a" stroke-width="0.2" textLength="23.10" lengthAdjust="spacingAndGlyphs" >DMSO</text>
<rect x="453.40" y="276.70" width="6.10" height="5.70" fill="#c20c2e"/>
<text x="462.40" y="281.70" font-size="7.8" fill="#1a1a1a" stroke="#1a1a1a" stroke-width="0.2" textLength="50.81" lengthAdjust="spacingAndGlyphs" >100 uM MS452</text>
<text x="223.80" y="269.78" font-size="7.8" fill="#1a1a1a" font-weight="bold" textLength="37.40" lengthAdjust="spacingAndGlyphs" transform="rotate(-90 242.50 267.80)">CBX7 binding</text>
<text x="210.70" y="270.88" font-size="7.8" fill="#1a1a1a" font-weight="bold" textLength="85.41" lengthAdjust="spacingAndGlyphs" transform="rotate(-90 253.40 268.90)">(normalized to DMSO control)</text>
<line x1="48.80" y1="391.00" x2="48.80" y2="435.60" stroke="#1a1a1a" stroke-width="1" />
<line x1="46.30" y1="435.60" x2="49.30" y2="435.60" stroke="#1a1a1a" stroke-width="1" />
<line x1="48.80" y1="442.80" x2="48.80" y2="485.10" stroke="#1a1a1a" stroke-width="1" />
<line x1="46.30" y1="442.80" x2="49.30" y2="442.80" stroke="#1a1a1a" stroke-width="1" />
<line x1="48.30" y1="485.10" x2="154.60" y2="485.10" stroke="#1a1a1a" stroke-width="1" />
<line x1="45.30" y1="393.75" x2="48.80" y2="393.75" stroke="#1a1a1a" stroke-width="1" />
<text x="33.90" y="396.55" font-size="8" fill="#1a1a1a" stroke="#1a1a1a" stroke-width="0.2" textLength="8.42" lengthAdjust="spacingAndGlyphs" >15</text>
<line x1="45.30" y1="412.50" x2="48.80" y2="412.50" stroke="#1a1a1a" stroke-width="1" />
<text x="33.90" y="415.30" font-size="8" fill="#1a1a1a" stroke="#1a1a1a" stroke-width="0.2" textLength="8.42" lengthAdjust="spacingAndGlyphs" >10</text>
<line x1="45.30" y1="431.25" x2="48.80" y2="431.25" stroke="#1a1a1a" stroke-width="1" />
<text x="38.30" y="434.05" font-size="8" fill="#1a1a1a" stroke="#1a1a1a" stroke-width="0.2" textLength="4.01" lengthAdjust="spacingAndGlyphs" >5</text>
<line x1="45.30" y1="451.15" x2="48.80" y2="451.15" stroke="#1a1a1a" stroke-width="1" />
<text x="38.30" y="453.95" font-size="8" fill="#1a1a1a" stroke="#1a1a1a" stroke-width="0.2" textLength="4.01" lengthAdjust="spacingAndGlyphs" >3</text>
<line x1="45.30" y1="462.50" x2="48.80" y2="462.50" stroke="#1a1a1a" stroke-width="1" />
<text x="38.30" y="465.30" font-size="8" fill="#1a1a1a" stroke="#1a1a1a" stroke-width="0.2" textLength="4.01" lengthAdjust="spacingAndGlyphs" >2</text>
<line x1="45.30" y1="473.85" x2="48.80" y2="473.85" stroke="#1a1a1a" stroke-width="1" />
<text x="38.30" y="476.65" font-size="8" fill="#1a1a1a" stroke="#1a1a1a" stroke-width="0.2" textLength="4.01" lengthAdjust="spacingAndGlyphs" >1</text>
<line x1="45.30" y1="485.20" x2="48.80" y2="485.20" stroke="#1a1a1a" stroke-width="1" />
<text x="38.30" y="488.00" font-size="8" fill="#1a1a1a" stroke="#1a1a1a" stroke-width="0.2" textLength="4.01" lengthAdjust="spacingAndGlyphs" >0</text>
<text x="54.40" y="379.10" font-size="9.3" fill="#1a1a1a" stroke="#1a1a1a" stroke-width="0.12" textLength="94.41" lengthAdjust="spacingAndGlyphs" >CELL CYCLE ARREST</text>
<rect x="53.80" y="471.80" width="9.30" height="13.30" fill="#161616"/>
<rect x="53.80" y="471.80" width="9.30" height="3.60" fill="#9a9a9a"/>
<rect x="65.00" y="404.50" width="8.90" height="31.10" fill="#e5877c"/>
<rect x="65.00" y="442.80" width="8.90" height="42.30" fill="#e5877c"/>
<rect x="76.10" y="433.60" width="8.70" height="2.00" fill="#c5c1e6"/>
<rect x="76.10" y="442.80" width="8.70" height="42.30" fill="#c5c1e6"/>
<rect x="86.60" y="433.20" width="9.20" height="2.40" fill="#8a9cc6"/>
<rect x="86.60" y="442.80" width="9.20" height="42.30" fill="#8a9cc6"/>
<circle cx="66.40" cy="405.50" r="1.90" fill="#c20c2e" stroke="#8e0a24" stroke-width="0.5"/>
<circle cx="72.30" cy="403.80" r="1.90" fill="#c20c2e" stroke="#8e0a24" stroke-width="0.5"/>
<line x1="81.50" y1="433.60" x2="81.50" y2="430.50" stroke="#9a8ecb" stroke-width="1" />
<line x1="79.30" y1="430.50" x2="83.70" y2="430.50" stroke="#9a8ecb" stroke-width="1" />
<line x1="91.20" y1="433.20" x2="91.20" y2="429.80" stroke="#1d4a86" stroke-width="1" />
<line x1="89.00" y1="429.80" x2="93.40" y2="429.80" stroke="#1d4a86" stroke-width="1" />
<circle cx="76.80" cy="427.90" r="1.90" fill="#9a8ecb" stroke="#857ab8" stroke-width="0.5"/>
<circle cx="83.00" cy="429.90" r="1.90" fill="#9a8ecb" stroke="#857ab8" stroke-width="0.5"/>
<circle cx="79.90" cy="466.30" r="1.90" fill="#9a8ecb" stroke="#857ab8" stroke-width="0.5"/>
<circle cx="90.90" cy="422.60" r="1.90" fill="#1d4a86" stroke="#12346a" stroke-width="0.5"/>
<circle cx="87.70" cy="431.10" r="1.90" fill="#1d4a86" stroke="#12346a" stroke-width="0.5"/>
<circle cx="93.90" cy="432.20" r="1.90" fill="#1d4a86" stroke="#12346a" stroke-width="0.5"/>
<circle cx="90.90" cy="463.70" r="1.90" fill="#1d4a86" stroke="#12346a" stroke-width="0.5"/>
<circle cx="69.30" cy="389.50" r="1.05" fill="#2a2a2a"/>
<circle cx="79.90" cy="415.20" r="1.05" fill="#2a2a2a"/>
<circle cx="90.90" cy="408.20" r="1.05" fill="#2a2a2a"/>
<rect x="106.90" y="472.10" width="8.90" height="13.00" fill="#161616"/>
<rect x="106.90" y="472.10" width="8.90" height="3.20" fill="#9a9a9a"/>
<rect x="118.00" y="468.00" width="9.00" height="17.10" fill="#e5877c"/>
<rect x="128.50" y="457.20" width="9.10" height="27.90" fill="#c5c1e6"/>
<rect x="139.10" y="464.70" width="9.70" height="20.40" fill="#8a9cc6"/>
<line x1="133.10" y1="457.20" x2="133.10" y2="450.20" stroke="#9a8ecb" stroke-width="1" />
<line x1="130.60" y1="450.20" x2="135.60" y2="450.20" stroke="#9a8ecb" stroke-width="1" />
<line x1="143.90" y1="464.70" x2="143.90" y2="460.00" stroke="#1d4a86" stroke-width="1" />
<line x1="141.40" y1="460.00" x2="146.40" y2="460.00" stroke="#1d4a86" stroke-width="1" />
<circle cx="119.20" cy="468.00" r="1.90" fill="#c20c2e" stroke="#8e0a24" stroke-width="0.5"/>
<circle cx="125.70" cy="468.00" r="1.90" fill="#c20c2e" stroke="#8e0a24" stroke-width="0.5"/>
<circle cx="133.10" cy="443.60" r="1.90" fill="#9a8ecb" stroke="#857ab8" stroke-width="0.5"/>
<circle cx="130.40" cy="465.30" r="1.90" fill="#9a8ecb" stroke="#857ab8" stroke-width="0.5"/>
<circle cx="136.70" cy="462.80" r="1.90" fill="#9a8ecb" stroke="#857ab8" stroke-width="0.5"/>
<circle cx="143.80" cy="453.50" r="1.90" fill="#1d4a86" stroke="#12346a" stroke-width="0.5"/>
<circle cx="143.80" cy="463.80" r="1.90" fill="#1d4a86" stroke="#12346a" stroke-width="0.5"/>
<circle cx="141.00" cy="470.70" r="1.90" fill="#1d4a86" stroke="#12346a" stroke-width="0.5"/>
<circle cx="147.50" cy="467.90" r="1.90" fill="#1d4a86" stroke="#12346a" stroke-width="0.5"/>
<circle cx="122.30" cy="454.50" r="1.05" fill="#2a2a2a"/>
<circle cx="133.10" cy="428.40" r="1.05" fill="#2a2a2a"/>
<circle cx="144.10" cy="439.00" r="1.05" fill="#2a2a2a"/>
<line x1="74.60" y1="485.10" x2="74.60" y2="488.20" stroke="#1a1a1a" stroke-width="1" />
<line x1="128.00" y1="485.10" x2="128.00" y2="488.20" stroke="#1a1a1a" stroke-width="1" />
<text x="68.20" y="497.80" font-size="8" fill="#1a1a1a" stroke="#1a1a1a" stroke-width="0.2" textLength="12.90" lengthAdjust="spacingAndGlyphs" >P21</text>
<text x="56.50" y="506.20" font-size="8" fill="#1a1a1a" stroke="#1a1a1a" stroke-width="0.2" textLength="36.58" lengthAdjust="spacingAndGlyphs" >(CDKN1A)</text>
<text x="120.50" y="497.80" font-size="8" fill="#1a1a1a" stroke="#1a1a1a" stroke-width="0.2" textLength="14.00" lengthAdjust="spacingAndGlyphs" >P16</text>
<text x="114.00" y="506.20" font-size="8" fill="#1a1a1a" stroke="#1a1a1a" stroke-width="0.2" textLength="27.31" lengthAdjust="spacingAndGlyphs" >(INK4A)</text>
<text x="161.00" y="418.40" font-size="7.9" fill="#1a1a1a" stroke="#1a1a1a" stroke-width="0.2" textLength="52.89" lengthAdjust="spacingAndGlyphs" >4 days treatment</text>
<rect x="160.40" y="423.30" width="6.10" height="6.10" fill="#161616"/>
<text x="169.80" y="428.70" font-size="7.8" fill="#1a1a1a" stroke="#1a1a1a" stroke-width="0.2" textLength="22.10" lengthAdjust="spacingAndGlyphs" >DMSO</text>
<rect x="160.40" y="434.40" width="6.10" height="6.20" fill="#c20c2e"/>
<text x="169.80" y="439.90" font-size="7.8" fill="#1a1a1a" stroke="#1a1a1a" stroke-width="0.2" textLength="46.51" lengthAdjust="spacingAndGlyphs" >15 uM MS452</text>
<rect x="160.40" y="446.00" width="6.10" height="6.20" fill="#9a8ecb"/>
<text x="169.80" y="451.50" font-size="7.8" fill="#1a1a1a" stroke="#1a1a1a" stroke-width="0.2" textLength="47.88" lengthAdjust="spacingAndGlyphs" >32 uM EC-134</text>
<rect x="160.40" y="457.10" width="6.10" height="6.10" fill="#1d4a86"/>
<text x="169.80" y="462.50" font-size="7.8" fill="#1a1a1a" stroke="#1a1a1a" stroke-width="0.2" textLength="47.89" lengthAdjust="spacingAndGlyphs" >12 uM BDA-41</text>
<text x="-24.10" y="438.98" font-size="7.8" fill="#1a1a1a" font-weight="bold" textLength="78.40" lengthAdjust="spacingAndGlyphs" transform="rotate(-90 15.10 437.00)">Normalized gene expression</text>
<text x="1.80" y="438.98" font-size="7.8" fill="#1a1a1a" font-weight="bold" textLength="47.21" lengthAdjust="spacingAndGlyphs" transform="rotate(-90 25.40 437.00)">(DMSO:treatment)</text>
<line x1="279.40" y1="392.60" x2="279.40" y2="417.00" stroke="#1a1a1a" stroke-width="1" />
<line x1="276.90" y1="417.00" x2="279.90" y2="417.00" stroke="#1a1a1a" stroke-width="1" />
<line x1="279.40" y1="423.60" x2="279.40" y2="484.80" stroke="#1a1a1a" stroke-width="1" />
<line x1="276.90" y1="423.60" x2="279.90" y2="423.60" stroke="#1a1a1a" stroke-width="1" />
<line x1="278.90" y1="484.80" x2="447.30" y2="484.80" stroke="#1a1a1a" stroke-width="1" />
<line x1="275.90" y1="399.30" x2="279.40" y2="399.30" stroke="#1a1a1a" stroke-width="1" />
<text x="264.60" y="402.10" font-size="8" fill="#1a1a1a" stroke="#1a1a1a" stroke-width="0.2" textLength="8.62" lengthAdjust="spacingAndGlyphs" >60</text>
<line x1="275.90" y1="406.30" x2="279.40" y2="406.30" stroke="#1a1a1a" stroke-width="1" />
<text x="264.60" y="409.10" font-size="8" fill="#1a1a1a" stroke="#1a1a1a" stroke-width="0.2" textLength="8.62" lengthAdjust="spacingAndGlyphs" >40</text>
<line x1="275.90" y1="413.30" x2="279.40" y2="413.30" stroke="#1a1a1a" stroke-width="1" />
<text x="264.60" y="416.10" font-size="8" fill="#1a1a1a" stroke="#1a1a1a" stroke-width="0.2" textLength="8.62" lengthAdjust="spacingAndGlyphs" >20</text>
<line x1="275.90" y1="423.80" x2="279.40" y2="423.80" stroke="#1a1a1a" stroke-width="1" />
<text x="264.60" y="426.60" font-size="8" fill="#1a1a1a" stroke="#1a1a1a" stroke-width="0.2" textLength="8.62" lengthAdjust="spacingAndGlyphs" >10</text>
<line x1="275.90" y1="436.00" x2="279.40" y2="436.00" stroke="#1a1a1a" stroke-width="1" />
<text x="269.30" y="438.80" font-size="8" fill="#1a1a1a" stroke="#1a1a1a" stroke-width="0.2" textLength="4.01" lengthAdjust="spacingAndGlyphs" >8</text>
<line x1="275.90" y1="448.20" x2="279.40" y2="448.20" stroke="#1a1a1a" stroke-width="1" />
<text x="269.30" y="451.00" font-size="8" fill="#1a1a1a" stroke="#1a1a1a" stroke-width="0.2" textLength="4.01" lengthAdjust="spacingAndGlyphs" >6</text>
<line x1="275.90" y1="460.40" x2="279.40" y2="460.40" stroke="#1a1a1a" stroke-width="1" />
<text x="269.30" y="463.20" font-size="8" fill="#1a1a1a" stroke="#1a1a1a" stroke-width="0.2" textLength="4.01" lengthAdjust="spacingAndGlyphs" >4</text>
<line x1="275.90" y1="472.60" x2="279.40" y2="472.60" stroke="#1a1a1a" stroke-width="1" />
<text x="269.30" y="475.40" font-size="8" fill="#1a1a1a" stroke="#1a1a1a" stroke-width="0.2" textLength="4.01" lengthAdjust="spacingAndGlyphs" >2</text>
<line x1="275.90" y1="484.80" x2="279.40" y2="484.80" stroke="#1a1a1a" stroke-width="1" />
<text x="269.30" y="487.60" font-size="8" fill="#1a1a1a" stroke="#1a1a1a" stroke-width="0.2" textLength="4.01" lengthAdjust="spacingAndGlyphs" >0</text>
<text x="324.50" y="378.60" font-size="9.1" fill="#1a1a1a" stroke="#1a1a1a" stroke-width="0.12" textLength="79.80" lengthAdjust="spacingAndGlyphs" >DIFFERENTIATION</text>
<rect x="282.90" y="477.00" width="7.80" height="7.80" fill="#161616"/>
<rect x="282.90" y="477.00" width="7.80" height="3.90" fill="#9a9a9a"/>
<line x1="300.00" y1="484.80" x2="300.00" y2="487.80" stroke="#1a1a1a" stroke-width="1" />
<rect x="291.90" y="470.00" width="8.10" height="14.80" fill="#e5877c"/>
<rect x="301.00" y="470.50" width="7.50" height="14.30" fill="#c5c1e6"/>
<rect x="309.60" y="471.10" width="7.40" height="13.70" fill="#8a9cc6"/>
<rect x="325.90" y="477.00" width="6.70" height="7.80" fill="#161616"/>
<rect x="325.90" y="477.00" width="6.70" height="3.90" fill="#9a9a9a"/>
<line x1="341.90" y1="484.80" x2="341.90" y2="487.80" stroke="#1a1a1a" stroke-width="1" />
<rect x="334.00" y="471.40" width="7.50" height="13.40" fill="#e5877c"/>
<rect x="343.10" y="464.60" width="6.90" height="20.20" fill="#c5c1e6"/>
<rect x="351.40" y="474.80" width="7.40" height="10.00" fill="#8a9cc6"/>
<rect x="367.80" y="477.00" width="7.20" height="7.80" fill="#161616"/>
<rect x="367.80" y="477.00" width="7.20" height="3.90" fill="#9a9a9a"/>
<line x1="384.30" y1="484.80" x2="384.30" y2="487.80" stroke="#1a1a1a" stroke-width="1" />
<rect x="376.20" y="400.90" width="7.60" height="16.60" fill="#e5877c"/>
<rect x="376.20" y="423.60" width="7.60" height="61.20" fill="#e5877c"/>
<rect x="384.70" y="412.60" width="7.70" height="4.90" fill="#c5c1e6"/>
<rect x="384.70" y="423.60" width="7.70" height="61.20" fill="#c5c1e6"/>
<rect x="394.00" y="412.60" width="6.90" height="4.90" fill="#8a9cc6"/>
<rect x="394.00" y="423.60" width="6.90" height="61.20" fill="#8a9cc6"/>
<rect x="410.20" y="477.00" width="6.40" height="7.80" fill="#161616"/>
<rect x="410.20" y="477.00" width="6.40" height="3.90" fill="#9a9a9a"/>
<line x1="426.00" y1="484.80" x2="426.00" y2="487.80" stroke="#1a1a1a" stroke-width="1" />
<rect x="418.10" y="443.30" width="7.90" height="41.50" fill="#e5877c"/>
<rect x="426.70" y="478.50" width="7.40" height="6.30" fill="#c5c1e6"/>
<rect x="435.20" y="423.60" width="7.40" height="61.20" fill="#8a9cc6"/>
<circle cx="292.50" cy="471.50" r="1.90" fill="#c20c2e" stroke="#8e0a24" stroke-width="0.5"/>
<circle cx="295.00" cy="469.50" r="1.90" fill="#c20c2e" stroke="#8e0a24" stroke-width="0.5"/>
<circle cx="297.50" cy="469.00" r="1.90" fill="#c20c2e" stroke="#8e0a24" stroke-width="0.5"/>
<circle cx="299.50" cy="470.80" r="1.90" fill="#c20c2e" stroke="#8e0a24" stroke-width="0.5"/>
<circle cx="296.00" cy="472.50" r="1.90" fill="#c20c2e" stroke="#8e0a24" stroke-width="0.5"/>
<circle cx="302.30" cy="470.50" r="1.90" fill="#9a8ecb" stroke="#857ab8" stroke-width="0.5"/>
<circle cx="307.00" cy="469.60" r="1.90" fill="#9a8ecb" stroke="#857ab8" stroke-width="0.5"/>
<circle cx="312.80" cy="464.90" r="1.90" fill="#1d4a86" stroke="#12346a" stroke-width="0.5"/>
<circle cx="312.80" cy="470.00" r="1.90" fill="#1d4a86" stroke="#12346a" stroke-width="0.5"/>
<circle cx="312.80" cy="476.70" r="1.90" fill="#1d4a86" stroke="#12346a" stroke-width="0.5"/>
<circle cx="296.60" cy="456.90" r="1.05" fill="#2a2a2a"/>
<circle cx="305.40" cy="458.70" r="1.05" fill="#2a2a2a"/>
<circle cx="313.90" cy="453.00" r="1.05" fill="#2a2a2a"/>
<circle cx="335.60" cy="468.40" r="1.90" fill="#c20c2e" stroke="#8e0a24" stroke-width="0.5"/>
<circle cx="340.10" cy="470.30" r="1.90" fill="#c20c2e" stroke="#8e0a24" stroke-width="0.5"/>
<circle cx="337.80" cy="476.10" r="1.90" fill="#c20c2e" stroke="#8e0a24" stroke-width="0.5"/>
<line x1="346.20" y1="464.60" x2="346.20" y2="460.90" stroke="#9a8ecb" stroke-width="1" />
<line x1="344.00" y1="460.90" x2="348.40" y2="460.90" stroke="#9a8ecb" stroke-width="1" />
<circle cx="346.20" cy="460.90" r="1.90" fill="#9a8ecb" stroke="#857ab8" stroke-width="0.5"/>
<circle cx="346.20" cy="466.60" r="1.90" fill="#9a8ecb" stroke="#857ab8" stroke-width="0.5"/>
<circle cx="353.30" cy="474.50" r="1.90" fill="#1d4a86" stroke="#12346a" stroke-width="0.5"/>
<circle cx="357.10" cy="472.30" r="1.90" fill="#1d4a86" stroke="#12346a" stroke-width="0.5"/>
<circle cx="339.20" cy="457.10" r="1.05" fill="#2a2a2a"/>
<circle cx="346.90" cy="448.00" r="1.05" fill="#2a2a2a"/>
<line x1="379.80" y1="400.90" x2="379.80" y2="395.00" stroke="#c20c2e" stroke-width="1" />
<line x1="377.60" y1="395.00" x2="382.00" y2="395.00" stroke="#c20c2e" stroke-width="1" />
<circle cx="379.80" cy="395.00" r="1.90" fill="#c20c2e" stroke="#8e0a24" stroke-width="0.5"/>
<circle cx="379.80" cy="399.80" r="1.90" fill="#c20c2e" stroke="#8e0a24" stroke-width="0.5"/>
<circle cx="379.80" cy="407.10" r="1.90" fill="#c20c2e" stroke="#8e0a24" stroke-width="0.5"/>
<circle cx="386.80" cy="412.90" r="1.90" fill="#9a8ecb" stroke="#857ab8" stroke-width="0.5"/>
<circle cx="390.70" cy="411.00" r="1.90" fill="#9a8ecb" stroke="#857ab8" stroke-width="0.5"/>
<circle cx="395.50" cy="412.50" r="1.90" fill="#1d4a86" stroke="#12346a" stroke-width="0.5"/>
<circle cx="397.50" cy="410.50" r="1.90" fill="#1d4a86" stroke="#12346a" stroke-width="0.5"/>
<circle cx="398.80" cy="412.80" r="1.90" fill="#1d4a86" stroke="#12346a" stroke-width="0.5"/>
<circle cx="379.80" cy="386.50" r="1.05" fill="#2a2a2a"/>
<circle cx="389.10" cy="398.60" r="1.05" fill="#2a2a2a"/>
<circle cx="395.00" cy="407.90" r="1.05" fill="#2a2a2a"/>
<line x1="422.00" y1="443.30" x2="422.00" y2="436.00" stroke="#c20c2e" stroke-width="1" />
<line x1="419.80" y1="436.00" x2="424.20" y2="436.00" stroke="#c20c2e" stroke-width="1" />
<circle cx="419.80" cy="434.60" r="1.90" fill="#c20c2e" stroke="#8e0a24" stroke-width="0.5"/>
<circle cx="424.30" cy="436.90" r="1.90" fill="#c20c2e" stroke="#8e0a24" stroke-width="0.5"/>
<circle cx="422.00" cy="457.20" r="1.90" fill="#c20c2e" stroke="#8e0a24" stroke-width="0.5"/>
<circle cx="428.40" cy="479.60" r="1.90" fill="#9a8ecb" stroke="#857ab8" stroke-width="0.5"/>
<circle cx="432.40" cy="478.00" r="1.90" fill="#9a8ecb" stroke="#857ab8" stroke-width="0.5"/>
<line x1="438.90" y1="423.60" x2="438.90" y2="417.10" stroke="#1d4a86" stroke-width="1" />
<line x1="435.80" y1="417.10" x2="442.20" y2="417.10" stroke="#1d4a86" stroke-width="1" />
<circle cx="438.80" cy="410.30" r="1.90" fill="#1d4a86" stroke="#12346a" stroke-width="0.5"/>
<circle cx="436.90" cy="465.70" r="1.90" fill="#1d4a86" stroke="#12346a" stroke-width="0.5"/>
<circle cx="441.20" cy="463.60" r="1.90" fill="#1d4a86" stroke="#12346a" stroke-width="0.5"/>
<circle cx="422.80" cy="423.00" r="1.05" fill="#2a2a2a"/>
<text x="292.70" y="497.70" font-size="8.2" fill="#1a1a1a" stroke="#1a1a1a" stroke-width="0.2" textLength="12.51" lengthAdjust="spacingAndGlyphs" >ID2</text>
<text x="334.00" y="497.70" font-size="8.2" fill="#1a1a1a" stroke="#1a1a1a" stroke-width="0.2" textLength="16.02" lengthAdjust="spacingAndGlyphs" >IRF4</text>
<text x="373.60" y="497.70" font-size="8.2" fill="#1a1a1a" stroke="#1a1a1a" stroke-width="0.2" textLength="20.88" lengthAdjust="spacingAndGlyphs" >MAFB</text>
<text x="416.00" y="497.70" font-size="8.2" fill="#1a1a1a" stroke="#1a1a1a" stroke-width="0.2" textLength="20.21" lengthAdjust="spacingAndGlyphs" >CD14</text>
<text x="455.00" y="419.40" font-size="7.9" fill="#1a1a1a" stroke="#1a1a1a" stroke-width="0.2" textLength="52.29" lengthAdjust="spacingAndGlyphs" >4 days treatment</text>
<rect x="454.40" y="425.20" width="6.10" height="5.60" fill="#161616"/>
<text x="463.80" y="430.10" font-size="7.8" fill="#1a1a1a" stroke="#1a1a1a" stroke-width="0.2" textLength="22.40" lengthAdjust="spacingAndGlyphs" >DMSO</text>
<rect x="454.40" y="436.00" width="6.10" height="5.60" fill="#c20c2e"/>
<text x="463.80" y="440.90" font-size="7.8" fill="#1a1a1a" stroke="#1a1a1a" stroke-width="0.2" textLength="45.71" lengthAdjust="spacingAndGlyphs" >15 uM MS452</text>
<rect x="454.40" y="447.50" width="6.10" height="5.60" fill="#9a8ecb"/>
<text x="463.80" y="452.40" font-size="7.8" fill="#1a1a1a" stroke="#1a1a1a" stroke-width="0.2" textLength="47.19" lengthAdjust="spacingAndGlyphs" >32 uM EC-134</text>
<rect x="454.40" y="459.00" width="6.10" height="5.60" fill="#1d4a86"/>
<text x="463.80" y="463.90" font-size="7.8" fill="#1a1a1a" stroke="#1a1a1a" stroke-width="0.2" textLength="47.19" lengthAdjust="spacingAndGlyphs" >12 uM BDA-41</text>
<text x="204.85" y="439.38" font-size="7.8" fill="#1a1a1a" font-weight="bold" textLength="80.50" lengthAdjust="spacingAndGlyphs" transform="rotate(-90 245.10 437.40)">Normalized gene expression</text>
<text x="231.10" y="439.88" font-size="7.8" fill="#1a1a1a" font-weight="bold" textLength="48.81" lengthAdjust="spacingAndGlyphs" transform="rotate(-90 255.50 437.90)">(DMSO:treatment)</text>
<line x1="432.60" y1="24.00" x2="432.60" y2="126.70" stroke="#1a1a1a" stroke-width="1" />
<line x1="432.10" y1="126.70" x2="509.50" y2="126.70" stroke="#1a1a1a" stroke-width="1" />
<line x1="48.70" y1="222.00" x2="48.70" y2="315.40" stroke="#1a1a1a" stroke-width="1" />
<line x1="48.20" y1="315.40" x2="154.60" y2="315.40" stroke="#1a1a1a" stroke-width="1" />
<line x1="279.20" y1="222.00" x2="279.20" y2="315.20" stroke="#1a1a1a" stroke-width="1" />
<line x1="278.70" y1="315.20" x2="447.50" y2="315.20" stroke="#1a1a1a" stroke-width="1" />
<line x1="48.80" y1="442.80" x2="48.80" y2="485.10" stroke="#1a1a1a" stroke-width="1" />
<line x1="48.30" y1="485.10" x2="154.60" y2="485.10" stroke="#1a1a1a" stroke-width="1" />
<line x1="279.40" y1="423.60" x2="279.40" y2="484.80" stroke="#1a1a1a" stroke-width="1" />
<line x1="278.90" y1="484.80" x2="447.30" y2="484.80" stroke="#1a1a1a" stroke-width="1" />
</g>
</svg></body></html>
